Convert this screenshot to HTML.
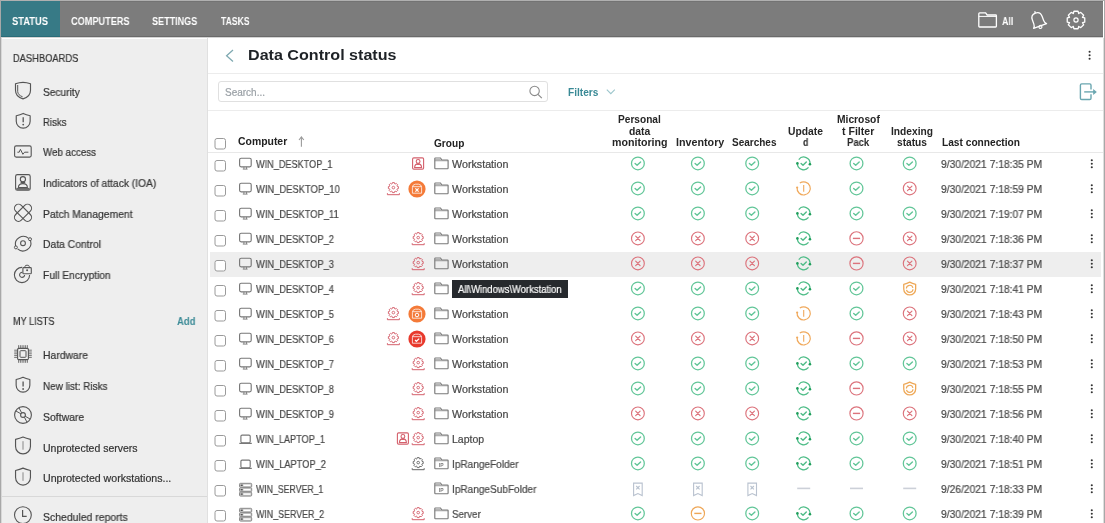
<!DOCTYPE html><html><head><meta charset="utf-8"><style>
*{margin:0;padding:0;box-sizing:border-box}
html,body{width:1105px;height:523px;overflow:hidden;background:#fff}
body{position:relative;font-family:"Liberation Sans",sans-serif}
.t{position:absolute;white-space:nowrap;transform-origin:0 50%;-webkit-font-smoothing:antialiased;will-change:transform;-webkit-text-stroke:0.2px currentColor}
.t.b{-webkit-text-stroke:0}
.a{position:absolute}
svg{position:absolute;overflow:visible}
</style></head><body>
<div class="a" style="left:1px;top:1px;width:1102px;height:36px;background:#7c7c7c"></div>
<div class="a" style="left:1px;top:1px;width:1102px;height:1px;background:#737373"></div>
<div class="a" style="left:1px;top:1px;width:59px;height:36px;background:#377a86"></div>
<div class="a" style="left:1px;top:36px;width:1102px;height:1px;background:#6a6a6a"></div>
<div class="a" style="left:1px;top:36px;width:59px;height:1px;background:#2a6c78"></div>
<div class="a" style="left:1px;top:37px;width:1102px;height:1px;background:#d4d4d4"></div>
<div class="t b" style="left:11.80px;top:14.19px;font-size:11px;line-height:14px;font-weight:bold;color:#fff;transform:scaleX(0.8497);">STATUS</div>
<div class="t b" style="left:70.70px;top:14.19px;font-size:11px;line-height:14px;font-weight:bold;color:#fff;transform:scaleX(0.8323);">COMPUTERS</div>
<div class="t b" style="left:151.80px;top:14.19px;font-size:11px;line-height:14px;font-weight:bold;color:#fff;transform:scaleX(0.8217);">SETTINGS</div>
<div class="t b" style="left:220.50px;top:14.19px;font-size:11px;line-height:14px;font-weight:bold;color:#fff;transform:scaleX(0.7816);">TASKS</div>
<div class="t b" style="left:1002.00px;top:13.76px;font-size:10.5px;line-height:14px;font-weight:bold;color:#fff;transform:scaleX(0.8422);">All</div>
<div class="a" style="left:1px;top:39px;width:206px;height:484px;background:#eeeeee"></div>
<div class="a" style="left:207px;top:38px;width:1px;height:485px;background:#e0e0e0"></div>
<div class="a" style="left:0;top:0;width:1105px;height:1px;background:#b0b0b0"></div>
<div class="a" style="left:0;top:0;width:1px;height:523px;background:#a8a8a8"></div>
<div class="a" style="left:1px;top:38px;width:1px;height:485px;background:#d8d8d8"></div>
<div class="a" style="left:1103px;top:38px;width:1px;height:485px;background:#dedede"></div>
<div class="a" style="left:1104px;top:0;width:1px;height:523px;background:#a8a8a8"></div>
<div class="t" style="left:12.70px;top:50.86px;font-size:10.5px;line-height:14px;color:#333;transform:scaleX(0.8882);">DASHBOARDS</div>
<div class="t" style="left:43.10px;top:84.66px;font-size:10.5px;line-height:14px;color:#333;transform:scaleX(0.9676);">Security</div>
<div class="t" style="left:43.10px;top:114.96px;font-size:10.5px;line-height:14px;color:#333;transform:scaleX(0.9117);">Risks</div>
<div class="t" style="left:43.10px;top:145.46px;font-size:10.5px;line-height:14px;color:#333;transform:scaleX(0.9299);">Web access</div>
<div class="t" style="left:43.10px;top:176.16px;font-size:10.5px;line-height:14px;color:#333;transform:scaleX(0.9748);">Indicators of attack (IOA)</div>
<div class="t" style="left:43.10px;top:206.66px;font-size:10.5px;line-height:14px;color:#333;transform:scaleX(0.9829);">Patch Management</div>
<div class="t" style="left:43.10px;top:237.46px;font-size:10.5px;line-height:14px;color:#333;transform:scaleX(0.9856);">Data Control</div>
<div class="t" style="left:43.10px;top:267.96px;font-size:10.5px;line-height:14px;color:#333;transform:scaleX(0.9748);">Full Encryption</div>
<div class="t" style="left:12.70px;top:313.96px;font-size:10.5px;line-height:14px;color:#333;transform:scaleX(0.8666);">MY LISTS</div>
<div class="t b" style="left:176.80px;top:313.96px;font-size:10.5px;line-height:14px;font-weight:bold;color:#3a8a96;transform:scaleX(0.9064);">Add</div>
<div class="t" style="left:43.10px;top:348.46px;font-size:10.5px;line-height:14px;color:#333;transform:scaleX(0.9864);">Hardware</div>
<div class="t" style="left:43.10px;top:378.86px;font-size:10.5px;line-height:14px;color:#333;transform:scaleX(0.9450);">New list: Risks</div>
<div class="t" style="left:43.10px;top:410.06px;font-size:10.5px;line-height:14px;color:#333;transform:scaleX(0.9943);">Software</div>
<div class="t" style="left:43.10px;top:440.66px;font-size:10.5px;line-height:14px;color:#333;transform:scaleX(1.0006);">Unprotected servers</div>
<div class="t" style="left:43.10px;top:471.26px;font-size:10.5px;line-height:14px;color:#333;transform:scaleX(1.0084);">Unprotected workstations...</div>
<div class="t" style="left:43.10px;top:509.86px;font-size:10.5px;line-height:14px;color:#333;transform:scaleX(0.9939);">Scheduled reports</div>
<div class="a" style="left:1px;top:496px;width:206px;height:1px;background:#d8d8d8"></div>
<div class="t b" style="left:247.50px;top:45.20px;font-size:15px;line-height:20px;font-weight:bold;color:#1e2226;transform:scaleX(1.0734);">Data Control status</div>
<div class="a" style="left:208px;top:73px;width:895px;height:1px;background:#ececec"></div>
<div class="a" style="left:218px;top:81px;width:330px;height:21px;border:1px solid #e0e0e0;border-radius:3px"></div>
<div class="t" style="left:225.00px;top:86.03px;font-size:10px;line-height:13px;color:#9aa0a6;transform:scaleX(0.9995);">Search...</div>
<div class="t b" style="left:568.40px;top:85.53px;font-size:10px;line-height:13px;font-weight:bold;color:#3a8a96;transform:scaleX(1.0130);">Filters</div>
<div class="a" style="left:208px;top:110px;width:895px;height:1px;background:#ececec"></div>
<div class="a" style="left:208px;top:152px;width:895px;height:1px;background:#e8e8e8"></div>
<div class="t b" style="left:238.10px;top:135.34px;font-size:10px;line-height:13px;font-weight:bold;color:#222;transform:scaleX(1.0419);">Computer</div>
<div class="t b" style="left:433.60px;top:136.63px;font-size:10px;line-height:13px;font-weight:bold;color:#222;transform:scaleX(1.0102);">Group</div>
<div class="t b" style="left:618.40px;top:113.13px;font-size:10px;line-height:13px;font-weight:bold;color:#262626;transform:scaleX(1.0132);">Personal</div>
<div class="t b" style="left:629.00px;top:124.63px;font-size:10px;line-height:13px;font-weight:bold;color:#262626;transform:scaleX(1.0359);">data</div>
<div class="t b" style="left:611.80px;top:135.94px;font-size:10px;line-height:13px;font-weight:bold;color:#262626;transform:scaleX(1.0630);">monitoring</div>
<div class="t b" style="left:675.70px;top:135.94px;font-size:10px;line-height:13px;font-weight:bold;color:#262626;transform:scaleX(1.0731);">Inventory</div>
<div class="t b" style="left:732.10px;top:135.94px;font-size:10px;line-height:13px;font-weight:bold;color:#262626;transform:scaleX(0.9982);">Searches</div>
<div class="t b" style="left:788.10px;top:124.63px;font-size:10px;line-height:13px;font-weight:bold;color:#262626;transform:scaleX(1.0297);">Update</div>
<div class="t b" style="left:802.70px;top:135.94px;font-size:10px;line-height:13px;font-weight:bold;color:#262626;transform:scaleX(0.8676);">d</div>
<div class="t b" style="left:837.30px;top:113.13px;font-size:10px;line-height:13px;font-weight:bold;color:#262626;transform:scaleX(1.0271);">Microsof</div>
<div class="t b" style="left:841.90px;top:124.63px;font-size:10px;line-height:13px;font-weight:bold;color:#262626;transform:scaleX(1.0570);">t Filter</div>
<div class="t b" style="left:847.00px;top:135.94px;font-size:10px;line-height:13px;font-weight:bold;color:#262626;transform:scaleX(0.9505);">Pack</div>
<div class="t b" style="left:890.70px;top:124.63px;font-size:10px;line-height:13px;font-weight:bold;color:#262626;transform:scaleX(1.0215);">Indexing</div>
<div class="t b" style="left:896.50px;top:135.94px;font-size:10px;line-height:13px;font-weight:bold;color:#262626;transform:scaleX(1.0185);">status</div>
<div class="t b" style="left:941.90px;top:136.13px;font-size:10px;line-height:13px;font-weight:bold;color:#222;transform:scaleX(1.0172);">Last connection</div>
<div class="a" style="left:210px;top:252px;width:891px;height:25px;background:#eeeeee"></div>
<div class="t" style="left:256.20px;top:156.56px;font-size:10.5px;line-height:14px;color:#474747;transform:scaleX(0.8701);">WIN_DESKTOP_1</div>
<div class="t" style="left:451.90px;top:156.56px;font-size:10.5px;line-height:14px;color:#474747;transform:scaleX(1.0209);">Workstation</div>
<div class="t" style="left:940.80px;top:156.56px;font-size:10.5px;line-height:14px;color:#474747;transform:scaleX(0.9794);">9/30/2021 7:18:35 PM</div>
<div class="t" style="left:256.20px;top:181.56px;font-size:10.5px;line-height:14px;color:#474747;transform:scaleX(0.8938);">WIN_DESKTOP_10</div>
<div class="t" style="left:451.90px;top:181.56px;font-size:10.5px;line-height:14px;color:#474747;transform:scaleX(1.0209);">Workstation</div>
<div class="t" style="left:940.80px;top:181.56px;font-size:10.5px;line-height:14px;color:#474747;transform:scaleX(0.9794);">9/30/2021 7:18:59 PM</div>
<div class="t" style="left:256.20px;top:206.56px;font-size:10.5px;line-height:14px;color:#474747;transform:scaleX(0.8894);">WIN_DESKTOP_11</div>
<div class="t" style="left:451.90px;top:206.56px;font-size:10.5px;line-height:14px;color:#474747;transform:scaleX(1.0209);">Workstation</div>
<div class="t" style="left:940.80px;top:206.56px;font-size:10.5px;line-height:14px;color:#474747;transform:scaleX(0.9794);">9/30/2021 7:19:07 PM</div>
<div class="t" style="left:256.20px;top:231.56px;font-size:10.5px;line-height:14px;color:#474747;transform:scaleX(0.8872);">WIN_DESKTOP_2</div>
<div class="t" style="left:451.90px;top:231.56px;font-size:10.5px;line-height:14px;color:#474747;transform:scaleX(1.0209);">Workstation</div>
<div class="t" style="left:940.80px;top:231.56px;font-size:10.5px;line-height:14px;color:#474747;transform:scaleX(0.9794);">9/30/2021 7:18:36 PM</div>
<div class="t" style="left:256.20px;top:256.56px;font-size:10.5px;line-height:14px;color:#474747;transform:scaleX(0.8872);">WIN_DESKTOP_3</div>
<div class="t" style="left:451.90px;top:256.56px;font-size:10.5px;line-height:14px;color:#474747;transform:scaleX(1.0209);">Workstation</div>
<div class="t" style="left:940.80px;top:256.56px;font-size:10.5px;line-height:14px;color:#474747;transform:scaleX(0.9794);">9/30/2021 7:18:37 PM</div>
<div class="t" style="left:256.20px;top:281.56px;font-size:10.5px;line-height:14px;color:#474747;transform:scaleX(0.8872);">WIN_DESKTOP_4</div>
<div class="t" style="left:940.80px;top:281.56px;font-size:10.5px;line-height:14px;color:#474747;transform:scaleX(0.9794);">9/30/2021 7:18:41 PM</div>
<div class="t" style="left:256.20px;top:306.56px;font-size:10.5px;line-height:14px;color:#474747;transform:scaleX(0.8872);">WIN_DESKTOP_5</div>
<div class="t" style="left:451.90px;top:306.56px;font-size:10.5px;line-height:14px;color:#474747;transform:scaleX(1.0209);">Workstation</div>
<div class="t" style="left:940.80px;top:306.56px;font-size:10.5px;line-height:14px;color:#474747;transform:scaleX(0.9794);">9/30/2021 7:18:43 PM</div>
<div class="t" style="left:256.20px;top:331.56px;font-size:10.5px;line-height:14px;color:#474747;transform:scaleX(0.8872);">WIN_DESKTOP_6</div>
<div class="t" style="left:451.90px;top:331.56px;font-size:10.5px;line-height:14px;color:#474747;transform:scaleX(1.0209);">Workstation</div>
<div class="t" style="left:940.80px;top:331.56px;font-size:10.5px;line-height:14px;color:#474747;transform:scaleX(0.9794);">9/30/2021 7:18:50 PM</div>
<div class="t" style="left:256.20px;top:356.56px;font-size:10.5px;line-height:14px;color:#474747;transform:scaleX(0.8872);">WIN_DESKTOP_7</div>
<div class="t" style="left:451.90px;top:356.56px;font-size:10.5px;line-height:14px;color:#474747;transform:scaleX(1.0209);">Workstation</div>
<div class="t" style="left:940.80px;top:356.56px;font-size:10.5px;line-height:14px;color:#474747;transform:scaleX(0.9794);">9/30/2021 7:18:53 PM</div>
<div class="t" style="left:256.20px;top:381.56px;font-size:10.5px;line-height:14px;color:#474747;transform:scaleX(0.8872);">WIN_DESKTOP_8</div>
<div class="t" style="left:451.90px;top:381.56px;font-size:10.5px;line-height:14px;color:#474747;transform:scaleX(1.0209);">Workstation</div>
<div class="t" style="left:940.80px;top:381.56px;font-size:10.5px;line-height:14px;color:#474747;transform:scaleX(0.9794);">9/30/2021 7:18:55 PM</div>
<div class="t" style="left:256.20px;top:406.56px;font-size:10.5px;line-height:14px;color:#474747;transform:scaleX(0.8872);">WIN_DESKTOP_9</div>
<div class="t" style="left:451.90px;top:406.56px;font-size:10.5px;line-height:14px;color:#474747;transform:scaleX(1.0209);">Workstation</div>
<div class="t" style="left:940.80px;top:406.56px;font-size:10.5px;line-height:14px;color:#474747;transform:scaleX(0.9794);">9/30/2021 7:18:56 PM</div>
<div class="t" style="left:256.20px;top:431.56px;font-size:10.5px;line-height:14px;color:#474747;transform:scaleX(0.8728);">WIN_LAPTOP_1</div>
<div class="t" style="left:451.90px;top:431.56px;font-size:10.5px;line-height:14px;color:#474747;transform:scaleX(0.9995);">Laptop</div>
<div class="t" style="left:940.80px;top:431.56px;font-size:10.5px;line-height:14px;color:#474747;transform:scaleX(0.9794);">9/30/2021 7:18:40 PM</div>
<div class="t" style="left:256.20px;top:456.56px;font-size:10.5px;line-height:14px;color:#474747;transform:scaleX(0.8841);">WIN_LAPTOP_2</div>
<div class="t" style="left:451.90px;top:456.56px;font-size:10.5px;line-height:14px;color:#474747;transform:scaleX(0.9588);">IpRangeFolder</div>
<div class="t" style="left:940.80px;top:456.56px;font-size:10.5px;line-height:14px;color:#474747;transform:scaleX(0.9794);">9/30/2021 7:18:51 PM</div>
<div class="t" style="left:256.20px;top:481.56px;font-size:10.5px;line-height:14px;color:#474747;transform:scaleX(0.8317);">WIN_SERVER_1</div>
<div class="t" style="left:451.90px;top:481.56px;font-size:10.5px;line-height:14px;color:#474747;transform:scaleX(0.9575);">IpRangeSubFolder</div>
<div class="t" style="left:940.80px;top:481.56px;font-size:10.5px;line-height:14px;color:#474747;transform:scaleX(0.9794);">9/26/2021 7:18:33 PM</div>
<div class="t" style="left:256.20px;top:506.56px;font-size:10.5px;line-height:14px;color:#474747;transform:scaleX(0.8428);">WIN_SERVER_2</div>
<div class="t" style="left:451.90px;top:506.56px;font-size:10.5px;line-height:14px;color:#474747;transform:scaleX(0.9312);">Server</div>
<div class="t" style="left:940.80px;top:506.56px;font-size:10.5px;line-height:14px;color:#474747;transform:scaleX(0.9794);">9/30/2021 7:18:39 PM</div>
<svg class="a" style="left:0;top:0" width="1105" height="523" viewBox="0 0 1105 523"><rect x="215.0" y="138.5" width="10.5" height="10.5" rx="2" fill="#fff" stroke="#9a9a9a" stroke-width="1"/><path d="M301.4,137.5 L301.4,146.8" stroke="#9a9a9a" stroke-width="1.1"/><path d="M299,140 L301.4,137 L303.8,140" fill="none" stroke="#9a9a9a" stroke-width="1.1"/><rect x="215.0" y="160.5" width="10.5" height="10.5" rx="2" fill="#fff" stroke="#9a9a9a" stroke-width="1"/><rect x="239.6" y="158.2" width="11.6" height="8.6" rx="1.5" fill="none" stroke="#777" stroke-width="1.15"/><path d="M243.9,166.9 L243.9,169.0 M246.5,166.9 L246.5,169.0" stroke="#777" stroke-width="0.8"/><path d="M242.8,169.1 L247.6,169.1" stroke="#777" stroke-width="0.9"/><path d="M434.8,168.1 L434.8,158.6 Q434.8,158.0 435.4,158.0 L440.5,158.0 L441.9,160.0 L447.5,160.0 Q448.09999999999997,160.0 448.09999999999997,160.6 L448.09999999999997,168.1 Q448.09999999999997,168.70000000000002 447.5,168.70000000000002 L435.4,168.70000000000002 Q434.8,168.70000000000002 434.8,168.1 Z" fill="none" stroke="#7a7a7a" stroke-width="1.15"/><path d="M435.2,158.9 L440.4,158.9 L441.4,160.4 L435.2,160.4 Z" fill="#7a7a7a" opacity=".55"/><path d="M434.8,160.8 L448.09999999999997,160.8" stroke="#7a7a7a" stroke-width=".9" opacity=".7"/><circle cx="637.9" cy="163.4" r="6.4" fill="none" stroke="#62c698" stroke-width="1.25"/><path d="M635.1,163.5 L637.1,165.3 L640.6,161.9" fill="none" stroke="#62c698" stroke-width="1.4" stroke-linecap="round" stroke-linejoin="round"/><circle cx="697.9" cy="163.4" r="6.4" fill="none" stroke="#62c698" stroke-width="1.25"/><path d="M695.1,163.5 L697.1,165.3 L700.6,161.9" fill="none" stroke="#62c698" stroke-width="1.4" stroke-linecap="round" stroke-linejoin="round"/><circle cx="752.2" cy="163.4" r="6.4" fill="none" stroke="#62c698" stroke-width="1.25"/><path d="M749.4000000000001,163.5 L751.4000000000001,165.3 L754.9000000000001,161.9" fill="none" stroke="#62c698" stroke-width="1.4" stroke-linecap="round" stroke-linejoin="round"/><path d="M798.74,159.52 A6.3,6.3 0 0 1 809.94,164.28" fill="none" stroke="#4fbd88" stroke-width="1.25"/><path d="M797.40,163.40 A6.3,6.3 0 0 0 808.53,167.45" fill="none" stroke="#4fbd88" stroke-width="1.25"/><circle cx="809.94" cy="164.28" r="1.3" fill="#1f9e5c"/><circle cx="797.40" cy="163.40" r="1.3" fill="#1f9e5c"/><path d="M801.1,163.5 L803.0,165.20000000000002 L806.3000000000001,161.9" fill="none" stroke="#4fbd88" stroke-width="1.4" stroke-linecap="round" stroke-linejoin="round"/><circle cx="856.5" cy="163.4" r="6.4" fill="none" stroke="#62c698" stroke-width="1.25"/><path d="M853.7,163.5 L855.7,165.3 L859.2,161.9" fill="none" stroke="#62c698" stroke-width="1.4" stroke-linecap="round" stroke-linejoin="round"/><circle cx="909.7" cy="163.4" r="6.4" fill="none" stroke="#62c698" stroke-width="1.25"/><path d="M906.9000000000001,163.5 L908.9000000000001,165.3 L912.4000000000001,161.9" fill="none" stroke="#62c698" stroke-width="1.4" stroke-linecap="round" stroke-linejoin="round"/><circle cx="1091.8" cy="160.2" r="1.05" fill="#333"/><circle cx="1091.8" cy="163.7" r="1.05" fill="#333"/><circle cx="1091.8" cy="167.2" r="1.05" fill="#333"/><rect x="215.0" y="185.5" width="10.5" height="10.5" rx="2" fill="#fff" stroke="#9a9a9a" stroke-width="1"/><rect x="239.6" y="183.2" width="11.6" height="8.6" rx="1.5" fill="none" stroke="#777" stroke-width="1.15"/><path d="M243.9,191.9 L243.9,194.0 M246.5,191.9 L246.5,194.0" stroke="#777" stroke-width="0.8"/><path d="M242.8,194.1 L247.6,194.1" stroke="#777" stroke-width="0.9"/><path d="M434.8,193.1 L434.8,183.6 Q434.8,183.0 435.4,183.0 L440.5,183.0 L441.9,185.0 L447.5,185.0 Q448.09999999999997,185.0 448.09999999999997,185.6 L448.09999999999997,193.1 Q448.09999999999997,193.70000000000002 447.5,193.70000000000002 L435.4,193.70000000000002 Q434.8,193.70000000000002 434.8,193.1 Z" fill="none" stroke="#7a7a7a" stroke-width="1.15"/><path d="M435.2,183.9 L440.4,183.9 L441.4,185.4 L435.2,185.4 Z" fill="#7a7a7a" opacity=".55"/><path d="M434.8,185.8 L448.09999999999997,185.8" stroke="#7a7a7a" stroke-width=".9" opacity=".7"/><circle cx="637.9" cy="188.4" r="6.4" fill="none" stroke="#62c698" stroke-width="1.25"/><path d="M635.1,188.5 L637.1,190.3 L640.6,186.9" fill="none" stroke="#62c698" stroke-width="1.4" stroke-linecap="round" stroke-linejoin="round"/><circle cx="697.9" cy="188.4" r="6.4" fill="none" stroke="#62c698" stroke-width="1.25"/><path d="M695.1,188.5 L697.1,190.3 L700.6,186.9" fill="none" stroke="#62c698" stroke-width="1.4" stroke-linecap="round" stroke-linejoin="round"/><circle cx="752.2" cy="188.4" r="6.4" fill="none" stroke="#62c698" stroke-width="1.25"/><path d="M749.4000000000001,188.5 L751.4000000000001,190.3 L754.9000000000001,186.9" fill="none" stroke="#62c698" stroke-width="1.4" stroke-linecap="round" stroke-linejoin="round"/><path d="M799.82,183.06 A6.6,6.6 0 1 1 797.16,187.48" fill="none" stroke="#f0a95c" stroke-width="1.2"/><circle cx="797.16" cy="187.48" r="1.1" fill="#f0a95c"/><path d="M803.7,185.1 L803.7,191.70000000000002" stroke="#f0a95c" stroke-width="1.1"/><circle cx="856.5" cy="188.4" r="6.4" fill="none" stroke="#62c698" stroke-width="1.25"/><path d="M853.7,188.5 L855.7,190.3 L859.2,186.9" fill="none" stroke="#62c698" stroke-width="1.4" stroke-linecap="round" stroke-linejoin="round"/><circle cx="909.7" cy="188.4" r="6.4" fill="none" stroke="#dc737c" stroke-width="1.15"/><path d="M907.5,186.20000000000002 L911.9000000000001,190.6 M911.9000000000001,186.20000000000002 L907.5,190.6" fill="none" stroke="#dc737c" stroke-width="1.2" stroke-linecap="round"/><circle cx="1091.8" cy="185.2" r="1.05" fill="#333"/><circle cx="1091.8" cy="188.7" r="1.05" fill="#333"/><circle cx="1091.8" cy="192.2" r="1.05" fill="#333"/><rect x="215.0" y="210.5" width="10.5" height="10.5" rx="2" fill="#fff" stroke="#9a9a9a" stroke-width="1"/><rect x="239.6" y="208.2" width="11.6" height="8.6" rx="1.5" fill="none" stroke="#777" stroke-width="1.15"/><path d="M243.9,216.9 L243.9,219.0 M246.5,216.9 L246.5,219.0" stroke="#777" stroke-width="0.8"/><path d="M242.8,219.1 L247.6,219.1" stroke="#777" stroke-width="0.9"/><path d="M434.8,218.1 L434.8,208.6 Q434.8,208.0 435.4,208.0 L440.5,208.0 L441.9,210.0 L447.5,210.0 Q448.09999999999997,210.0 448.09999999999997,210.6 L448.09999999999997,218.1 Q448.09999999999997,218.70000000000002 447.5,218.70000000000002 L435.4,218.70000000000002 Q434.8,218.70000000000002 434.8,218.1 Z" fill="none" stroke="#7a7a7a" stroke-width="1.15"/><path d="M435.2,208.9 L440.4,208.9 L441.4,210.4 L435.2,210.4 Z" fill="#7a7a7a" opacity=".55"/><path d="M434.8,210.8 L448.09999999999997,210.8" stroke="#7a7a7a" stroke-width=".9" opacity=".7"/><circle cx="637.9" cy="213.4" r="6.4" fill="none" stroke="#62c698" stroke-width="1.25"/><path d="M635.1,213.5 L637.1,215.3 L640.6,211.9" fill="none" stroke="#62c698" stroke-width="1.4" stroke-linecap="round" stroke-linejoin="round"/><circle cx="697.9" cy="213.4" r="6.4" fill="none" stroke="#62c698" stroke-width="1.25"/><path d="M695.1,213.5 L697.1,215.3 L700.6,211.9" fill="none" stroke="#62c698" stroke-width="1.4" stroke-linecap="round" stroke-linejoin="round"/><circle cx="752.2" cy="213.4" r="6.4" fill="none" stroke="#62c698" stroke-width="1.25"/><path d="M749.4000000000001,213.5 L751.4000000000001,215.3 L754.9000000000001,211.9" fill="none" stroke="#62c698" stroke-width="1.4" stroke-linecap="round" stroke-linejoin="round"/><path d="M798.74,209.52 A6.3,6.3 0 0 1 809.94,214.28" fill="none" stroke="#4fbd88" stroke-width="1.25"/><path d="M797.40,213.40 A6.3,6.3 0 0 0 808.53,217.45" fill="none" stroke="#4fbd88" stroke-width="1.25"/><circle cx="809.94" cy="214.28" r="1.3" fill="#1f9e5c"/><circle cx="797.40" cy="213.40" r="1.3" fill="#1f9e5c"/><path d="M801.1,213.5 L803.0,215.20000000000002 L806.3000000000001,211.9" fill="none" stroke="#4fbd88" stroke-width="1.4" stroke-linecap="round" stroke-linejoin="round"/><circle cx="856.5" cy="213.4" r="6.4" fill="none" stroke="#62c698" stroke-width="1.25"/><path d="M853.7,213.5 L855.7,215.3 L859.2,211.9" fill="none" stroke="#62c698" stroke-width="1.4" stroke-linecap="round" stroke-linejoin="round"/><circle cx="909.7" cy="213.4" r="6.4" fill="none" stroke="#62c698" stroke-width="1.25"/><path d="M906.9000000000001,213.5 L908.9000000000001,215.3 L912.4000000000001,211.9" fill="none" stroke="#62c698" stroke-width="1.4" stroke-linecap="round" stroke-linejoin="round"/><circle cx="1091.8" cy="210.2" r="1.05" fill="#333"/><circle cx="1091.8" cy="213.7" r="1.05" fill="#333"/><circle cx="1091.8" cy="217.2" r="1.05" fill="#333"/><rect x="215.0" y="235.5" width="10.5" height="10.5" rx="2" fill="#fff" stroke="#9a9a9a" stroke-width="1"/><rect x="239.6" y="233.2" width="11.6" height="8.6" rx="1.5" fill="none" stroke="#777" stroke-width="1.15"/><path d="M243.9,241.9 L243.9,244.0 M246.5,241.9 L246.5,244.0" stroke="#777" stroke-width="0.8"/><path d="M242.8,244.1 L247.6,244.1" stroke="#777" stroke-width="0.9"/><path d="M434.8,243.1 L434.8,233.6 Q434.8,233.0 435.4,233.0 L440.5,233.0 L441.9,235.0 L447.5,235.0 Q448.09999999999997,235.0 448.09999999999997,235.6 L448.09999999999997,243.1 Q448.09999999999997,243.70000000000002 447.5,243.70000000000002 L435.4,243.70000000000002 Q434.8,243.70000000000002 434.8,243.1 Z" fill="none" stroke="#7a7a7a" stroke-width="1.15"/><path d="M435.2,233.9 L440.4,233.9 L441.4,235.4 L435.2,235.4 Z" fill="#7a7a7a" opacity=".55"/><path d="M434.8,235.8 L448.09999999999997,235.8" stroke="#7a7a7a" stroke-width=".9" opacity=".7"/><circle cx="637.9" cy="238.4" r="6.4" fill="none" stroke="#dc737c" stroke-width="1.15"/><path d="M635.6999999999999,236.20000000000002 L640.1,240.6 M640.1,236.20000000000002 L635.6999999999999,240.6" fill="none" stroke="#dc737c" stroke-width="1.2" stroke-linecap="round"/><circle cx="697.9" cy="238.4" r="6.4" fill="none" stroke="#dc737c" stroke-width="1.15"/><path d="M695.6999999999999,236.20000000000002 L700.1,240.6 M700.1,236.20000000000002 L695.6999999999999,240.6" fill="none" stroke="#dc737c" stroke-width="1.2" stroke-linecap="round"/><circle cx="752.2" cy="238.4" r="6.4" fill="none" stroke="#dc737c" stroke-width="1.15"/><path d="M750.0,236.20000000000002 L754.4000000000001,240.6 M754.4000000000001,236.20000000000002 L750.0,240.6" fill="none" stroke="#dc737c" stroke-width="1.2" stroke-linecap="round"/><path d="M798.74,234.52 A6.3,6.3 0 0 1 809.94,239.28" fill="none" stroke="#4fbd88" stroke-width="1.25"/><path d="M797.40,238.40 A6.3,6.3 0 0 0 808.53,242.45" fill="none" stroke="#4fbd88" stroke-width="1.25"/><circle cx="809.94" cy="239.28" r="1.3" fill="#1f9e5c"/><circle cx="797.40" cy="238.40" r="1.3" fill="#1f9e5c"/><path d="M801.1,238.5 L803.0,240.20000000000002 L806.3000000000001,236.9" fill="none" stroke="#4fbd88" stroke-width="1.4" stroke-linecap="round" stroke-linejoin="round"/><circle cx="856.5" cy="238.4" r="6.6" fill="none" stroke="#dc737c" stroke-width="1.15"/><path d="M852.9,238.4 L860.1,238.4" stroke="#dc737c" stroke-width="1.4"/><circle cx="909.7" cy="238.4" r="6.4" fill="none" stroke="#dc737c" stroke-width="1.15"/><path d="M907.5,236.20000000000002 L911.9000000000001,240.6 M911.9000000000001,236.20000000000002 L907.5,240.6" fill="none" stroke="#dc737c" stroke-width="1.2" stroke-linecap="round"/><circle cx="1091.8" cy="235.2" r="1.05" fill="#333"/><circle cx="1091.8" cy="238.7" r="1.05" fill="#333"/><circle cx="1091.8" cy="242.2" r="1.05" fill="#333"/><rect x="215.0" y="260.5" width="10.5" height="10.5" rx="2" fill="#fff" stroke="#9a9a9a" stroke-width="1"/><rect x="239.6" y="258.20000000000005" width="11.6" height="8.6" rx="1.5" fill="none" stroke="#777" stroke-width="1.15"/><path d="M243.9,266.90000000000003 L243.9,269.0 M246.5,266.90000000000003 L246.5,269.0" stroke="#777" stroke-width="0.8"/><path d="M242.8,269.1 L247.6,269.1" stroke="#777" stroke-width="0.9"/><path d="M434.8,268.09999999999997 L434.8,258.59999999999997 Q434.8,258.0 435.4,258.0 L440.5,258.0 L441.9,260.0 L447.5,260.0 Q448.09999999999997,260.0 448.09999999999997,260.59999999999997 L448.09999999999997,268.09999999999997 Q448.09999999999997,268.7 447.5,268.7 L435.4,268.7 Q434.8,268.7 434.8,268.09999999999997 Z" fill="none" stroke="#7a7a7a" stroke-width="1.15"/><path d="M435.2,258.9 L440.4,258.9 L441.4,260.4 L435.2,260.4 Z" fill="#7a7a7a" opacity=".55"/><path d="M434.8,260.79999999999995 L448.09999999999997,260.79999999999995" stroke="#7a7a7a" stroke-width=".9" opacity=".7"/><circle cx="637.9" cy="263.4" r="6.4" fill="none" stroke="#dc737c" stroke-width="1.15"/><path d="M635.6999999999999,261.2 L640.1,265.59999999999997 M640.1,261.2 L635.6999999999999,265.59999999999997" fill="none" stroke="#dc737c" stroke-width="1.2" stroke-linecap="round"/><circle cx="697.9" cy="263.4" r="6.4" fill="none" stroke="#dc737c" stroke-width="1.15"/><path d="M695.6999999999999,261.2 L700.1,265.59999999999997 M700.1,261.2 L695.6999999999999,265.59999999999997" fill="none" stroke="#dc737c" stroke-width="1.2" stroke-linecap="round"/><circle cx="752.2" cy="263.4" r="6.4" fill="none" stroke="#dc737c" stroke-width="1.15"/><path d="M750.0,261.2 L754.4000000000001,265.59999999999997 M754.4000000000001,261.2 L750.0,265.59999999999997" fill="none" stroke="#dc737c" stroke-width="1.2" stroke-linecap="round"/><path d="M798.74,259.52 A6.3,6.3 0 0 1 809.94,264.28" fill="none" stroke="#4fbd88" stroke-width="1.25"/><path d="M797.40,263.40 A6.3,6.3 0 0 0 808.53,267.45" fill="none" stroke="#4fbd88" stroke-width="1.25"/><circle cx="809.94" cy="264.28" r="1.3" fill="#1f9e5c"/><circle cx="797.40" cy="263.40" r="1.3" fill="#1f9e5c"/><path d="M801.1,263.5 L803.0,265.2 L806.3000000000001,261.9" fill="none" stroke="#4fbd88" stroke-width="1.4" stroke-linecap="round" stroke-linejoin="round"/><circle cx="856.5" cy="263.4" r="6.6" fill="none" stroke="#dc737c" stroke-width="1.15"/><path d="M852.9,263.4 L860.1,263.4" stroke="#dc737c" stroke-width="1.4"/><circle cx="909.7" cy="263.4" r="6.4" fill="none" stroke="#dc737c" stroke-width="1.15"/><path d="M907.5,261.2 L911.9000000000001,265.59999999999997 M911.9000000000001,261.2 L907.5,265.59999999999997" fill="none" stroke="#dc737c" stroke-width="1.2" stroke-linecap="round"/><circle cx="1091.8" cy="260.2" r="1.05" fill="#333"/><circle cx="1091.8" cy="263.7" r="1.05" fill="#333"/><circle cx="1091.8" cy="267.2" r="1.05" fill="#333"/><rect x="215.0" y="285.5" width="10.5" height="10.5" rx="2" fill="#fff" stroke="#9a9a9a" stroke-width="1"/><rect x="239.6" y="283.20000000000005" width="11.6" height="8.6" rx="1.5" fill="none" stroke="#777" stroke-width="1.15"/><path d="M243.9,291.90000000000003 L243.9,294.0 M246.5,291.90000000000003 L246.5,294.0" stroke="#777" stroke-width="0.8"/><path d="M242.8,294.1 L247.6,294.1" stroke="#777" stroke-width="0.9"/><path d="M434.8,293.09999999999997 L434.8,283.59999999999997 Q434.8,283.0 435.4,283.0 L440.5,283.0 L441.9,285.0 L447.5,285.0 Q448.09999999999997,285.0 448.09999999999997,285.59999999999997 L448.09999999999997,293.09999999999997 Q448.09999999999997,293.7 447.5,293.7 L435.4,293.7 Q434.8,293.7 434.8,293.09999999999997 Z" fill="none" stroke="#7a7a7a" stroke-width="1.15"/><path d="M435.2,283.9 L440.4,283.9 L441.4,285.4 L435.2,285.4 Z" fill="#7a7a7a" opacity=".55"/><path d="M434.8,285.79999999999995 L448.09999999999997,285.79999999999995" stroke="#7a7a7a" stroke-width=".9" opacity=".7"/><circle cx="637.9" cy="288.4" r="6.4" fill="none" stroke="#62c698" stroke-width="1.25"/><path d="M635.1,288.5 L637.1,290.29999999999995 L640.6,286.9" fill="none" stroke="#62c698" stroke-width="1.4" stroke-linecap="round" stroke-linejoin="round"/><circle cx="697.9" cy="288.4" r="6.4" fill="none" stroke="#62c698" stroke-width="1.25"/><path d="M695.1,288.5 L697.1,290.29999999999995 L700.6,286.9" fill="none" stroke="#62c698" stroke-width="1.4" stroke-linecap="round" stroke-linejoin="round"/><circle cx="752.2" cy="288.4" r="6.4" fill="none" stroke="#62c698" stroke-width="1.25"/><path d="M749.4000000000001,288.5 L751.4000000000001,290.29999999999995 L754.9000000000001,286.9" fill="none" stroke="#62c698" stroke-width="1.4" stroke-linecap="round" stroke-linejoin="round"/><path d="M798.74,284.52 A6.3,6.3 0 0 1 809.94,289.28" fill="none" stroke="#4fbd88" stroke-width="1.25"/><path d="M797.40,288.40 A6.3,6.3 0 0 0 808.53,292.45" fill="none" stroke="#4fbd88" stroke-width="1.25"/><circle cx="809.94" cy="289.28" r="1.3" fill="#1f9e5c"/><circle cx="797.40" cy="288.40" r="1.3" fill="#1f9e5c"/><path d="M801.1,288.5 L803.0,290.2 L806.3000000000001,286.9" fill="none" stroke="#4fbd88" stroke-width="1.4" stroke-linecap="round" stroke-linejoin="round"/><circle cx="856.5" cy="288.4" r="6.4" fill="none" stroke="#62c698" stroke-width="1.25"/><path d="M853.7,288.5 L855.7,290.29999999999995 L859.2,286.9" fill="none" stroke="#62c698" stroke-width="1.4" stroke-linecap="round" stroke-linejoin="round"/><path d="M903.75,284.4 Q907.1,283.4 909.7,282.05 Q912.3000000000001,283.4 915.6500000000001,284.4 L915.6500000000001,289.0 A5.95,5.95 0 0 1 903.75,289.0 Z" fill="none" stroke="#eea857" stroke-width="1.3" stroke-linejoin="round"/><path d="M906.4000000000001,288.59999999999997 A3.3,3.3 0 0 1 912.9000000000001,287.79999999999995" fill="none" stroke="#eea857" stroke-width="1.15"/><path d="M913.0,289.29999999999995 A3.3,3.3 0 0 1 906.5,289.9" fill="none" stroke="#eea857" stroke-width="1.15"/><circle cx="1091.8" cy="285.2" r="1.05" fill="#333"/><circle cx="1091.8" cy="288.7" r="1.05" fill="#333"/><circle cx="1091.8" cy="292.2" r="1.05" fill="#333"/><rect x="215.0" y="310.5" width="10.5" height="10.5" rx="2" fill="#fff" stroke="#9a9a9a" stroke-width="1"/><rect x="239.6" y="308.20000000000005" width="11.6" height="8.6" rx="1.5" fill="none" stroke="#777" stroke-width="1.15"/><path d="M243.9,316.90000000000003 L243.9,319.0 M246.5,316.90000000000003 L246.5,319.0" stroke="#777" stroke-width="0.8"/><path d="M242.8,319.1 L247.6,319.1" stroke="#777" stroke-width="0.9"/><path d="M434.8,318.09999999999997 L434.8,308.59999999999997 Q434.8,308.0 435.4,308.0 L440.5,308.0 L441.9,310.0 L447.5,310.0 Q448.09999999999997,310.0 448.09999999999997,310.59999999999997 L448.09999999999997,318.09999999999997 Q448.09999999999997,318.7 447.5,318.7 L435.4,318.7 Q434.8,318.7 434.8,318.09999999999997 Z" fill="none" stroke="#7a7a7a" stroke-width="1.15"/><path d="M435.2,308.9 L440.4,308.9 L441.4,310.4 L435.2,310.4 Z" fill="#7a7a7a" opacity=".55"/><path d="M434.8,310.79999999999995 L448.09999999999997,310.79999999999995" stroke="#7a7a7a" stroke-width=".9" opacity=".7"/><circle cx="637.9" cy="313.4" r="6.4" fill="none" stroke="#62c698" stroke-width="1.25"/><path d="M635.1,313.5 L637.1,315.29999999999995 L640.6,311.9" fill="none" stroke="#62c698" stroke-width="1.4" stroke-linecap="round" stroke-linejoin="round"/><circle cx="697.9" cy="313.4" r="6.4" fill="none" stroke="#62c698" stroke-width="1.25"/><path d="M695.1,313.5 L697.1,315.29999999999995 L700.6,311.9" fill="none" stroke="#62c698" stroke-width="1.4" stroke-linecap="round" stroke-linejoin="round"/><circle cx="752.2" cy="313.4" r="6.4" fill="none" stroke="#62c698" stroke-width="1.25"/><path d="M749.4000000000001,313.5 L751.4000000000001,315.29999999999995 L754.9000000000001,311.9" fill="none" stroke="#62c698" stroke-width="1.4" stroke-linecap="round" stroke-linejoin="round"/><path d="M799.82,308.06 A6.6,6.6 0 1 1 797.16,312.48" fill="none" stroke="#f0a95c" stroke-width="1.2"/><circle cx="797.16" cy="312.48" r="1.1" fill="#f0a95c"/><path d="M803.7,310.09999999999997 L803.7,316.7" stroke="#f0a95c" stroke-width="1.1"/><circle cx="856.5" cy="313.4" r="6.4" fill="none" stroke="#62c698" stroke-width="1.25"/><path d="M853.7,313.5 L855.7,315.29999999999995 L859.2,311.9" fill="none" stroke="#62c698" stroke-width="1.4" stroke-linecap="round" stroke-linejoin="round"/><circle cx="909.7" cy="313.4" r="6.4" fill="none" stroke="#dc737c" stroke-width="1.15"/><path d="M907.5,311.2 L911.9000000000001,315.59999999999997 M911.9000000000001,311.2 L907.5,315.59999999999997" fill="none" stroke="#dc737c" stroke-width="1.2" stroke-linecap="round"/><circle cx="1091.8" cy="310.2" r="1.05" fill="#333"/><circle cx="1091.8" cy="313.7" r="1.05" fill="#333"/><circle cx="1091.8" cy="317.2" r="1.05" fill="#333"/><rect x="215.0" y="335.5" width="10.5" height="10.5" rx="2" fill="#fff" stroke="#9a9a9a" stroke-width="1"/><rect x="239.6" y="333.20000000000005" width="11.6" height="8.6" rx="1.5" fill="none" stroke="#777" stroke-width="1.15"/><path d="M243.9,341.90000000000003 L243.9,344.0 M246.5,341.90000000000003 L246.5,344.0" stroke="#777" stroke-width="0.8"/><path d="M242.8,344.1 L247.6,344.1" stroke="#777" stroke-width="0.9"/><path d="M434.8,343.09999999999997 L434.8,333.59999999999997 Q434.8,333.0 435.4,333.0 L440.5,333.0 L441.9,335.0 L447.5,335.0 Q448.09999999999997,335.0 448.09999999999997,335.59999999999997 L448.09999999999997,343.09999999999997 Q448.09999999999997,343.7 447.5,343.7 L435.4,343.7 Q434.8,343.7 434.8,343.09999999999997 Z" fill="none" stroke="#7a7a7a" stroke-width="1.15"/><path d="M435.2,333.9 L440.4,333.9 L441.4,335.4 L435.2,335.4 Z" fill="#7a7a7a" opacity=".55"/><path d="M434.8,335.79999999999995 L448.09999999999997,335.79999999999995" stroke="#7a7a7a" stroke-width=".9" opacity=".7"/><circle cx="637.9" cy="338.4" r="6.4" fill="none" stroke="#dc737c" stroke-width="1.15"/><path d="M635.6999999999999,336.2 L640.1,340.59999999999997 M640.1,336.2 L635.6999999999999,340.59999999999997" fill="none" stroke="#dc737c" stroke-width="1.2" stroke-linecap="round"/><circle cx="697.9" cy="338.4" r="6.4" fill="none" stroke="#dc737c" stroke-width="1.15"/><path d="M695.6999999999999,336.2 L700.1,340.59999999999997 M700.1,336.2 L695.6999999999999,340.59999999999997" fill="none" stroke="#dc737c" stroke-width="1.2" stroke-linecap="round"/><circle cx="752.2" cy="338.4" r="6.4" fill="none" stroke="#dc737c" stroke-width="1.15"/><path d="M750.0,336.2 L754.4000000000001,340.59999999999997 M754.4000000000001,336.2 L750.0,340.59999999999997" fill="none" stroke="#dc737c" stroke-width="1.2" stroke-linecap="round"/><path d="M799.82,333.06 A6.6,6.6 0 1 1 797.16,337.48" fill="none" stroke="#f0a95c" stroke-width="1.2"/><circle cx="797.16" cy="337.48" r="1.1" fill="#f0a95c"/><path d="M803.7,335.09999999999997 L803.7,341.7" stroke="#f0a95c" stroke-width="1.1"/><circle cx="856.5" cy="338.4" r="6.6" fill="none" stroke="#dc737c" stroke-width="1.15"/><path d="M852.9,338.4 L860.1,338.4" stroke="#dc737c" stroke-width="1.4"/><circle cx="909.7" cy="338.4" r="6.4" fill="none" stroke="#dc737c" stroke-width="1.15"/><path d="M907.5,336.2 L911.9000000000001,340.59999999999997 M911.9000000000001,336.2 L907.5,340.59999999999997" fill="none" stroke="#dc737c" stroke-width="1.2" stroke-linecap="round"/><circle cx="1091.8" cy="335.2" r="1.05" fill="#333"/><circle cx="1091.8" cy="338.7" r="1.05" fill="#333"/><circle cx="1091.8" cy="342.2" r="1.05" fill="#333"/><rect x="215.0" y="360.5" width="10.5" height="10.5" rx="2" fill="#fff" stroke="#9a9a9a" stroke-width="1"/><rect x="239.6" y="358.20000000000005" width="11.6" height="8.6" rx="1.5" fill="none" stroke="#777" stroke-width="1.15"/><path d="M243.9,366.90000000000003 L243.9,369.0 M246.5,366.90000000000003 L246.5,369.0" stroke="#777" stroke-width="0.8"/><path d="M242.8,369.1 L247.6,369.1" stroke="#777" stroke-width="0.9"/><path d="M434.8,368.09999999999997 L434.8,358.59999999999997 Q434.8,358.0 435.4,358.0 L440.5,358.0 L441.9,360.0 L447.5,360.0 Q448.09999999999997,360.0 448.09999999999997,360.59999999999997 L448.09999999999997,368.09999999999997 Q448.09999999999997,368.7 447.5,368.7 L435.4,368.7 Q434.8,368.7 434.8,368.09999999999997 Z" fill="none" stroke="#7a7a7a" stroke-width="1.15"/><path d="M435.2,358.9 L440.4,358.9 L441.4,360.4 L435.2,360.4 Z" fill="#7a7a7a" opacity=".55"/><path d="M434.8,360.79999999999995 L448.09999999999997,360.79999999999995" stroke="#7a7a7a" stroke-width=".9" opacity=".7"/><circle cx="637.9" cy="363.4" r="6.4" fill="none" stroke="#62c698" stroke-width="1.25"/><path d="M635.1,363.5 L637.1,365.29999999999995 L640.6,361.9" fill="none" stroke="#62c698" stroke-width="1.4" stroke-linecap="round" stroke-linejoin="round"/><circle cx="697.9" cy="363.4" r="6.4" fill="none" stroke="#62c698" stroke-width="1.25"/><path d="M695.1,363.5 L697.1,365.29999999999995 L700.6,361.9" fill="none" stroke="#62c698" stroke-width="1.4" stroke-linecap="round" stroke-linejoin="round"/><circle cx="752.2" cy="363.4" r="6.4" fill="none" stroke="#62c698" stroke-width="1.25"/><path d="M749.4000000000001,363.5 L751.4000000000001,365.29999999999995 L754.9000000000001,361.9" fill="none" stroke="#62c698" stroke-width="1.4" stroke-linecap="round" stroke-linejoin="round"/><path d="M798.74,359.52 A6.3,6.3 0 0 1 809.94,364.28" fill="none" stroke="#4fbd88" stroke-width="1.25"/><path d="M797.40,363.40 A6.3,6.3 0 0 0 808.53,367.45" fill="none" stroke="#4fbd88" stroke-width="1.25"/><circle cx="809.94" cy="364.28" r="1.3" fill="#1f9e5c"/><circle cx="797.40" cy="363.40" r="1.3" fill="#1f9e5c"/><path d="M801.1,363.5 L803.0,365.2 L806.3000000000001,361.9" fill="none" stroke="#4fbd88" stroke-width="1.4" stroke-linecap="round" stroke-linejoin="round"/><circle cx="856.5" cy="363.4" r="6.4" fill="none" stroke="#62c698" stroke-width="1.25"/><path d="M853.7,363.5 L855.7,365.29999999999995 L859.2,361.9" fill="none" stroke="#62c698" stroke-width="1.4" stroke-linecap="round" stroke-linejoin="round"/><circle cx="909.7" cy="363.4" r="6.4" fill="none" stroke="#62c698" stroke-width="1.25"/><path d="M906.9000000000001,363.5 L908.9000000000001,365.29999999999995 L912.4000000000001,361.9" fill="none" stroke="#62c698" stroke-width="1.4" stroke-linecap="round" stroke-linejoin="round"/><circle cx="1091.8" cy="360.2" r="1.05" fill="#333"/><circle cx="1091.8" cy="363.7" r="1.05" fill="#333"/><circle cx="1091.8" cy="367.2" r="1.05" fill="#333"/><rect x="215.0" y="385.5" width="10.5" height="10.5" rx="2" fill="#fff" stroke="#9a9a9a" stroke-width="1"/><rect x="239.6" y="383.20000000000005" width="11.6" height="8.6" rx="1.5" fill="none" stroke="#777" stroke-width="1.15"/><path d="M243.9,391.90000000000003 L243.9,394.0 M246.5,391.90000000000003 L246.5,394.0" stroke="#777" stroke-width="0.8"/><path d="M242.8,394.1 L247.6,394.1" stroke="#777" stroke-width="0.9"/><path d="M434.8,393.09999999999997 L434.8,383.59999999999997 Q434.8,383.0 435.4,383.0 L440.5,383.0 L441.9,385.0 L447.5,385.0 Q448.09999999999997,385.0 448.09999999999997,385.59999999999997 L448.09999999999997,393.09999999999997 Q448.09999999999997,393.7 447.5,393.7 L435.4,393.7 Q434.8,393.7 434.8,393.09999999999997 Z" fill="none" stroke="#7a7a7a" stroke-width="1.15"/><path d="M435.2,383.9 L440.4,383.9 L441.4,385.4 L435.2,385.4 Z" fill="#7a7a7a" opacity=".55"/><path d="M434.8,385.79999999999995 L448.09999999999997,385.79999999999995" stroke="#7a7a7a" stroke-width=".9" opacity=".7"/><circle cx="637.9" cy="388.4" r="6.4" fill="none" stroke="#62c698" stroke-width="1.25"/><path d="M635.1,388.5 L637.1,390.29999999999995 L640.6,386.9" fill="none" stroke="#62c698" stroke-width="1.4" stroke-linecap="round" stroke-linejoin="round"/><circle cx="697.9" cy="388.4" r="6.4" fill="none" stroke="#62c698" stroke-width="1.25"/><path d="M695.1,388.5 L697.1,390.29999999999995 L700.6,386.9" fill="none" stroke="#62c698" stroke-width="1.4" stroke-linecap="round" stroke-linejoin="round"/><circle cx="752.2" cy="388.4" r="6.4" fill="none" stroke="#62c698" stroke-width="1.25"/><path d="M749.4000000000001,388.5 L751.4000000000001,390.29999999999995 L754.9000000000001,386.9" fill="none" stroke="#62c698" stroke-width="1.4" stroke-linecap="round" stroke-linejoin="round"/><path d="M798.74,384.52 A6.3,6.3 0 0 1 809.94,389.28" fill="none" stroke="#4fbd88" stroke-width="1.25"/><path d="M797.40,388.40 A6.3,6.3 0 0 0 808.53,392.45" fill="none" stroke="#4fbd88" stroke-width="1.25"/><circle cx="809.94" cy="389.28" r="1.3" fill="#1f9e5c"/><circle cx="797.40" cy="388.40" r="1.3" fill="#1f9e5c"/><path d="M801.1,388.5 L803.0,390.2 L806.3000000000001,386.9" fill="none" stroke="#4fbd88" stroke-width="1.4" stroke-linecap="round" stroke-linejoin="round"/><circle cx="856.5" cy="388.4" r="6.6" fill="none" stroke="#dc737c" stroke-width="1.15"/><path d="M852.9,388.4 L860.1,388.4" stroke="#dc737c" stroke-width="1.4"/><path d="M903.75,384.4 Q907.1,383.4 909.7,382.05 Q912.3000000000001,383.4 915.6500000000001,384.4 L915.6500000000001,389.0 A5.95,5.95 0 0 1 903.75,389.0 Z" fill="none" stroke="#eea857" stroke-width="1.3" stroke-linejoin="round"/><path d="M906.4000000000001,388.59999999999997 A3.3,3.3 0 0 1 912.9000000000001,387.79999999999995" fill="none" stroke="#eea857" stroke-width="1.15"/><path d="M913.0,389.29999999999995 A3.3,3.3 0 0 1 906.5,389.9" fill="none" stroke="#eea857" stroke-width="1.15"/><circle cx="1091.8" cy="385.2" r="1.05" fill="#333"/><circle cx="1091.8" cy="388.7" r="1.05" fill="#333"/><circle cx="1091.8" cy="392.2" r="1.05" fill="#333"/><rect x="215.0" y="410.5" width="10.5" height="10.5" rx="2" fill="#fff" stroke="#9a9a9a" stroke-width="1"/><rect x="239.6" y="408.20000000000005" width="11.6" height="8.6" rx="1.5" fill="none" stroke="#777" stroke-width="1.15"/><path d="M243.9,416.90000000000003 L243.9,419.0 M246.5,416.90000000000003 L246.5,419.0" stroke="#777" stroke-width="0.8"/><path d="M242.8,419.1 L247.6,419.1" stroke="#777" stroke-width="0.9"/><path d="M434.8,418.09999999999997 L434.8,408.59999999999997 Q434.8,408.0 435.4,408.0 L440.5,408.0 L441.9,410.0 L447.5,410.0 Q448.09999999999997,410.0 448.09999999999997,410.59999999999997 L448.09999999999997,418.09999999999997 Q448.09999999999997,418.7 447.5,418.7 L435.4,418.7 Q434.8,418.7 434.8,418.09999999999997 Z" fill="none" stroke="#7a7a7a" stroke-width="1.15"/><path d="M435.2,408.9 L440.4,408.9 L441.4,410.4 L435.2,410.4 Z" fill="#7a7a7a" opacity=".55"/><path d="M434.8,410.79999999999995 L448.09999999999997,410.79999999999995" stroke="#7a7a7a" stroke-width=".9" opacity=".7"/><circle cx="637.9" cy="413.4" r="6.4" fill="none" stroke="#dc737c" stroke-width="1.15"/><path d="M635.6999999999999,411.2 L640.1,415.59999999999997 M640.1,411.2 L635.6999999999999,415.59999999999997" fill="none" stroke="#dc737c" stroke-width="1.2" stroke-linecap="round"/><circle cx="697.9" cy="413.4" r="6.4" fill="none" stroke="#dc737c" stroke-width="1.15"/><path d="M695.6999999999999,411.2 L700.1,415.59999999999997 M700.1,411.2 L695.6999999999999,415.59999999999997" fill="none" stroke="#dc737c" stroke-width="1.2" stroke-linecap="round"/><circle cx="752.2" cy="413.4" r="6.4" fill="none" stroke="#dc737c" stroke-width="1.15"/><path d="M750.0,411.2 L754.4000000000001,415.59999999999997 M754.4000000000001,411.2 L750.0,415.59999999999997" fill="none" stroke="#dc737c" stroke-width="1.2" stroke-linecap="round"/><path d="M798.74,409.52 A6.3,6.3 0 0 1 809.94,414.28" fill="none" stroke="#4fbd88" stroke-width="1.25"/><path d="M797.40,413.40 A6.3,6.3 0 0 0 808.53,417.45" fill="none" stroke="#4fbd88" stroke-width="1.25"/><circle cx="809.94" cy="414.28" r="1.3" fill="#1f9e5c"/><circle cx="797.40" cy="413.40" r="1.3" fill="#1f9e5c"/><path d="M801.1,413.5 L803.0,415.2 L806.3000000000001,411.9" fill="none" stroke="#4fbd88" stroke-width="1.4" stroke-linecap="round" stroke-linejoin="round"/><circle cx="856.5" cy="413.4" r="6.6" fill="none" stroke="#dc737c" stroke-width="1.15"/><path d="M852.9,413.4 L860.1,413.4" stroke="#dc737c" stroke-width="1.4"/><circle cx="909.7" cy="413.4" r="6.4" fill="none" stroke="#dc737c" stroke-width="1.15"/><path d="M907.5,411.2 L911.9000000000001,415.59999999999997 M911.9000000000001,411.2 L907.5,415.59999999999997" fill="none" stroke="#dc737c" stroke-width="1.2" stroke-linecap="round"/><circle cx="1091.8" cy="410.2" r="1.05" fill="#333"/><circle cx="1091.8" cy="413.7" r="1.05" fill="#333"/><circle cx="1091.8" cy="417.2" r="1.05" fill="#333"/><rect x="215.0" y="435.5" width="10.5" height="10.5" rx="2" fill="#fff" stroke="#9a9a9a" stroke-width="1"/><rect x="240.9" y="435.1" width="9.3" height="7.6" rx="1.2" fill="none" stroke="#777" stroke-width="1.15"/><path d="M239.3,443.4 L251.8,443.4" stroke="#777" stroke-width="1.2"/><path d="M434.8,443.09999999999997 L434.8,433.59999999999997 Q434.8,433.0 435.4,433.0 L440.5,433.0 L441.9,435.0 L447.5,435.0 Q448.09999999999997,435.0 448.09999999999997,435.59999999999997 L448.09999999999997,443.09999999999997 Q448.09999999999997,443.7 447.5,443.7 L435.4,443.7 Q434.8,443.7 434.8,443.09999999999997 Z" fill="none" stroke="#7a7a7a" stroke-width="1.15"/><path d="M435.2,433.9 L440.4,433.9 L441.4,435.4 L435.2,435.4 Z" fill="#7a7a7a" opacity=".55"/><path d="M434.8,435.79999999999995 L448.09999999999997,435.79999999999995" stroke="#7a7a7a" stroke-width=".9" opacity=".7"/><circle cx="637.9" cy="438.4" r="6.4" fill="none" stroke="#62c698" stroke-width="1.25"/><path d="M635.1,438.5 L637.1,440.29999999999995 L640.6,436.9" fill="none" stroke="#62c698" stroke-width="1.4" stroke-linecap="round" stroke-linejoin="round"/><circle cx="697.9" cy="438.4" r="6.4" fill="none" stroke="#62c698" stroke-width="1.25"/><path d="M695.1,438.5 L697.1,440.29999999999995 L700.6,436.9" fill="none" stroke="#62c698" stroke-width="1.4" stroke-linecap="round" stroke-linejoin="round"/><circle cx="752.2" cy="438.4" r="6.4" fill="none" stroke="#62c698" stroke-width="1.25"/><path d="M749.4000000000001,438.5 L751.4000000000001,440.29999999999995 L754.9000000000001,436.9" fill="none" stroke="#62c698" stroke-width="1.4" stroke-linecap="round" stroke-linejoin="round"/><path d="M798.74,434.52 A6.3,6.3 0 0 1 809.94,439.28" fill="none" stroke="#4fbd88" stroke-width="1.25"/><path d="M797.40,438.40 A6.3,6.3 0 0 0 808.53,442.45" fill="none" stroke="#4fbd88" stroke-width="1.25"/><circle cx="809.94" cy="439.28" r="1.3" fill="#1f9e5c"/><circle cx="797.40" cy="438.40" r="1.3" fill="#1f9e5c"/><path d="M801.1,438.5 L803.0,440.2 L806.3000000000001,436.9" fill="none" stroke="#4fbd88" stroke-width="1.4" stroke-linecap="round" stroke-linejoin="round"/><circle cx="856.5" cy="438.4" r="6.4" fill="none" stroke="#62c698" stroke-width="1.25"/><path d="M853.7,438.5 L855.7,440.29999999999995 L859.2,436.9" fill="none" stroke="#62c698" stroke-width="1.4" stroke-linecap="round" stroke-linejoin="round"/><circle cx="909.7" cy="438.4" r="6.4" fill="none" stroke="#62c698" stroke-width="1.25"/><path d="M906.9000000000001,438.5 L908.9000000000001,440.29999999999995 L912.4000000000001,436.9" fill="none" stroke="#62c698" stroke-width="1.4" stroke-linecap="round" stroke-linejoin="round"/><circle cx="1091.8" cy="435.2" r="1.05" fill="#333"/><circle cx="1091.8" cy="438.7" r="1.05" fill="#333"/><circle cx="1091.8" cy="442.2" r="1.05" fill="#333"/><rect x="215.0" y="460.5" width="10.5" height="10.5" rx="2" fill="#fff" stroke="#9a9a9a" stroke-width="1"/><rect x="240.9" y="460.1" width="9.3" height="7.6" rx="1.2" fill="none" stroke="#777" stroke-width="1.15"/><path d="M239.3,468.4 L251.8,468.4" stroke="#777" stroke-width="1.2"/><path d="M434.8,468.09999999999997 L434.8,458.59999999999997 Q434.8,458.0 435.4,458.0 L440.5,458.0 L441.9,460.0 L447.5,460.0 Q448.09999999999997,460.0 448.09999999999997,460.59999999999997 L448.09999999999997,468.09999999999997 Q448.09999999999997,468.7 447.5,468.7 L435.4,468.7 Q434.8,468.7 434.8,468.09999999999997 Z" fill="none" stroke="#7a7a7a" stroke-width="1.15"/><path d="M435.2,458.9 L440.4,458.9 L441.4,460.4 L435.2,460.4 Z" fill="#7a7a7a" opacity=".55"/><path d="M434.8,460.79999999999995 L448.09999999999997,460.79999999999995" stroke="#7a7a7a" stroke-width=".9" opacity=".7"/><text x="438.8" y="466.7" font-family="Liberation Sans" font-size="5" font-weight="bold" fill="#7a7a7a">IP</text><circle cx="637.9" cy="463.4" r="6.4" fill="none" stroke="#62c698" stroke-width="1.25"/><path d="M635.1,463.5 L637.1,465.29999999999995 L640.6,461.9" fill="none" stroke="#62c698" stroke-width="1.4" stroke-linecap="round" stroke-linejoin="round"/><circle cx="697.9" cy="463.4" r="6.4" fill="none" stroke="#62c698" stroke-width="1.25"/><path d="M695.1,463.5 L697.1,465.29999999999995 L700.6,461.9" fill="none" stroke="#62c698" stroke-width="1.4" stroke-linecap="round" stroke-linejoin="round"/><circle cx="752.2" cy="463.4" r="6.4" fill="none" stroke="#62c698" stroke-width="1.25"/><path d="M749.4000000000001,463.5 L751.4000000000001,465.29999999999995 L754.9000000000001,461.9" fill="none" stroke="#62c698" stroke-width="1.4" stroke-linecap="round" stroke-linejoin="round"/><path d="M798.74,459.52 A6.3,6.3 0 0 1 809.94,464.28" fill="none" stroke="#4fbd88" stroke-width="1.25"/><path d="M797.40,463.40 A6.3,6.3 0 0 0 808.53,467.45" fill="none" stroke="#4fbd88" stroke-width="1.25"/><circle cx="809.94" cy="464.28" r="1.3" fill="#1f9e5c"/><circle cx="797.40" cy="463.40" r="1.3" fill="#1f9e5c"/><path d="M801.1,463.5 L803.0,465.2 L806.3000000000001,461.9" fill="none" stroke="#4fbd88" stroke-width="1.4" stroke-linecap="round" stroke-linejoin="round"/><circle cx="856.5" cy="463.4" r="6.4" fill="none" stroke="#62c698" stroke-width="1.25"/><path d="M853.7,463.5 L855.7,465.29999999999995 L859.2,461.9" fill="none" stroke="#62c698" stroke-width="1.4" stroke-linecap="round" stroke-linejoin="round"/><circle cx="909.7" cy="463.4" r="6.4" fill="none" stroke="#62c698" stroke-width="1.25"/><path d="M906.9000000000001,463.5 L908.9000000000001,465.29999999999995 L912.4000000000001,461.9" fill="none" stroke="#62c698" stroke-width="1.4" stroke-linecap="round" stroke-linejoin="round"/><circle cx="1091.8" cy="460.2" r="1.05" fill="#333"/><circle cx="1091.8" cy="463.7" r="1.05" fill="#333"/><circle cx="1091.8" cy="467.2" r="1.05" fill="#333"/><rect x="215.0" y="485.5" width="10.5" height="10.5" rx="2" fill="#fff" stroke="#9a9a9a" stroke-width="1"/><rect x="239.5" y="483.3" width="12.2" height="4" rx="1" fill="#c8c8c8" stroke="#8a8a8a" stroke-width="1"/><rect x="243.5" y="484.6" width="7" height="1.4" fill="#fff"/><rect x="240.7" y="484.6" width="2" height="1.4" fill="#555"/><rect x="239.5" y="487.7" width="12.2" height="4" rx="1" fill="#c8c8c8" stroke="#8a8a8a" stroke-width="1"/><rect x="243.5" y="489.0" width="7" height="1.4" fill="#fff"/><rect x="240.7" y="489.0" width="2" height="1.4" fill="#555"/><rect x="239.5" y="492.1" width="12.2" height="4" rx="1" fill="#c8c8c8" stroke="#8a8a8a" stroke-width="1"/><rect x="243.5" y="493.40000000000003" width="7" height="1.4" fill="#fff"/><rect x="240.7" y="493.40000000000003" width="2" height="1.4" fill="#555"/><path d="M434.8,493.09999999999997 L434.8,483.59999999999997 Q434.8,483.0 435.4,483.0 L440.5,483.0 L441.9,485.0 L447.5,485.0 Q448.09999999999997,485.0 448.09999999999997,485.59999999999997 L448.09999999999997,493.09999999999997 Q448.09999999999997,493.7 447.5,493.7 L435.4,493.7 Q434.8,493.7 434.8,493.09999999999997 Z" fill="none" stroke="#7a7a7a" stroke-width="1.15"/><path d="M435.2,483.9 L440.4,483.9 L441.4,485.4 L435.2,485.4 Z" fill="#7a7a7a" opacity=".55"/><path d="M434.8,485.79999999999995 L448.09999999999997,485.79999999999995" stroke="#7a7a7a" stroke-width=".9" opacity=".7"/><text x="438.8" y="491.7" font-family="Liberation Sans" font-size="5" font-weight="bold" fill="#7a7a7a">IP</text><path d="M633.6,483.09999999999997 L642.2,483.09999999999997 L642.2,495.59999999999997 L637.9,493.59999999999997 L633.6,495.59999999999997 Z" fill="none" stroke="#b9c2cf" stroke-width="1.1"/><path d="M636.1999999999999,485.99999999999994 L639.6,489.4 M639.6,485.99999999999994 L636.1999999999999,489.4" stroke="#b9c2cf" stroke-width="1.1"/><path d="M693.6,483.09999999999997 L702.2,483.09999999999997 L702.2,495.59999999999997 L697.9,493.59999999999997 L693.6,495.59999999999997 Z" fill="none" stroke="#b9c2cf" stroke-width="1.1"/><path d="M696.1999999999999,485.99999999999994 L699.6,489.4 M699.6,485.99999999999994 L696.1999999999999,489.4" stroke="#b9c2cf" stroke-width="1.1"/><path d="M747.9000000000001,483.09999999999997 L756.5000000000001,483.09999999999997 L756.5000000000001,495.59999999999997 L752.2,493.59999999999997 L747.9000000000001,495.59999999999997 Z" fill="none" stroke="#b9c2cf" stroke-width="1.1"/><path d="M750.5,485.99999999999994 L753.9000000000001,489.4 M753.9000000000001,485.99999999999994 L750.5,489.4" stroke="#b9c2cf" stroke-width="1.1"/><path d="M797.2,488.4 L810.2,488.4" stroke="#ccd0d8" stroke-width="1.6"/><path d="M850.0,488.4 L863.0,488.4" stroke="#ccd0d8" stroke-width="1.6"/><path d="M903.2,488.4 L916.2,488.4" stroke="#ccd0d8" stroke-width="1.6"/><circle cx="1091.8" cy="485.2" r="1.05" fill="#333"/><circle cx="1091.8" cy="488.7" r="1.05" fill="#333"/><circle cx="1091.8" cy="492.2" r="1.05" fill="#333"/><rect x="215.0" y="510.5" width="10.5" height="10.5" rx="2" fill="#fff" stroke="#9a9a9a" stroke-width="1"/><rect x="239.5" y="508.3" width="12.2" height="4" rx="1" fill="#c8c8c8" stroke="#8a8a8a" stroke-width="1"/><rect x="243.5" y="509.6" width="7" height="1.4" fill="#fff"/><rect x="240.7" y="509.6" width="2" height="1.4" fill="#555"/><rect x="239.5" y="512.7" width="12.2" height="4" rx="1" fill="#c8c8c8" stroke="#8a8a8a" stroke-width="1"/><rect x="243.5" y="514.0" width="7" height="1.4" fill="#fff"/><rect x="240.7" y="514.0" width="2" height="1.4" fill="#555"/><rect x="239.5" y="517.1" width="12.2" height="4" rx="1" fill="#c8c8c8" stroke="#8a8a8a" stroke-width="1"/><rect x="243.5" y="518.4" width="7" height="1.4" fill="#fff"/><rect x="240.7" y="518.4" width="2" height="1.4" fill="#555"/><path d="M434.8,518.1 L434.8,508.59999999999997 Q434.8,508.0 435.4,508.0 L440.5,508.0 L441.9,510.0 L447.5,510.0 Q448.09999999999997,510.0 448.09999999999997,510.59999999999997 L448.09999999999997,518.1 Q448.09999999999997,518.6999999999999 447.5,518.6999999999999 L435.4,518.6999999999999 Q434.8,518.6999999999999 434.8,518.1 Z" fill="none" stroke="#7a7a7a" stroke-width="1.15"/><path d="M435.2,508.9 L440.4,508.9 L441.4,510.4 L435.2,510.4 Z" fill="#7a7a7a" opacity=".55"/><path d="M434.8,510.79999999999995 L448.09999999999997,510.79999999999995" stroke="#7a7a7a" stroke-width=".9" opacity=".7"/><circle cx="637.9" cy="513.4" r="6.4" fill="none" stroke="#62c698" stroke-width="1.25"/><path d="M635.1,513.5 L637.1,515.3 L640.6,511.9" fill="none" stroke="#62c698" stroke-width="1.4" stroke-linecap="round" stroke-linejoin="round"/><circle cx="697.9" cy="513.4" r="6.6" fill="none" stroke="#eea656" stroke-width="1.15"/><path d="M694.3,513.4 L701.5,513.4" stroke="#eea656" stroke-width="1.4"/><circle cx="752.2" cy="513.4" r="6.4" fill="none" stroke="#62c698" stroke-width="1.25"/><path d="M749.4000000000001,513.5 L751.4000000000001,515.3 L754.9000000000001,511.9" fill="none" stroke="#62c698" stroke-width="1.4" stroke-linecap="round" stroke-linejoin="round"/><path d="M798.74,509.52 A6.3,6.3 0 0 1 809.94,514.28" fill="none" stroke="#4fbd88" stroke-width="1.25"/><path d="M797.40,513.40 A6.3,6.3 0 0 0 808.53,517.45" fill="none" stroke="#4fbd88" stroke-width="1.25"/><circle cx="809.94" cy="514.28" r="1.3" fill="#1f9e5c"/><circle cx="797.40" cy="513.40" r="1.3" fill="#1f9e5c"/><path d="M801.1,513.5 L803.0,515.1999999999999 L806.3000000000001,511.9" fill="none" stroke="#4fbd88" stroke-width="1.4" stroke-linecap="round" stroke-linejoin="round"/><circle cx="856.5" cy="513.4" r="6.4" fill="none" stroke="#62c698" stroke-width="1.25"/><path d="M853.7,513.5 L855.7,515.3 L859.2,511.9" fill="none" stroke="#62c698" stroke-width="1.4" stroke-linecap="round" stroke-linejoin="round"/><circle cx="909.7" cy="513.4" r="6.4" fill="none" stroke="#62c698" stroke-width="1.25"/><path d="M906.9000000000001,513.5 L908.9000000000001,515.3 L912.4000000000001,511.9" fill="none" stroke="#62c698" stroke-width="1.4" stroke-linecap="round" stroke-linejoin="round"/><circle cx="1091.8" cy="510.2" r="1.05" fill="#333"/><circle cx="1091.8" cy="513.7" r="1.05" fill="#333"/><circle cx="1091.8" cy="517.2" r="1.05" fill="#333"/><rect x="412.6" y="157.9" width="11" height="11.2" rx="1.2" fill="none" stroke="#d4606c" stroke-width="1.1"/><circle cx="418.1" cy="161.4" r="1.9" fill="none" stroke="#d4606c" stroke-width="1.1"/><path d="M414.6,167.5 Q414.8,164.0 418.1,163.9 Q421.4,164.0 421.6,167.5 Z" fill="none" stroke="#d4606c" stroke-width="1.1"/><path d="M416.6,164.20000000000002 L419.6,164.20000000000002" stroke="#d4606c" stroke-width="1.3"/><path d="M397.20,186.34 L398.40,186.59 L398.40,188.61 L397.20,188.86 L396.97,189.40 L397.65,190.42 L396.22,191.85 L395.20,191.17 L394.66,191.40 L394.41,192.60 L392.39,192.60 L392.14,191.40 L391.60,191.17 L390.58,191.85 L389.15,190.42 L389.83,189.40 L389.60,188.86 L388.40,188.61 L388.40,186.59 L389.60,186.34 L389.83,185.80 L389.15,184.78 L390.58,183.35 L391.60,184.03 L392.14,183.80 L392.39,182.60 L394.41,182.60 L394.66,183.80 L395.20,184.03 L396.22,183.35 L397.65,184.78 L396.97,185.80 Z" fill="none" stroke="#d4606c" stroke-width="0.95" stroke-linejoin="round"/><circle cx="393.4" cy="187.6" r="1.3" fill="none" stroke="#d4606c" stroke-width="0.9"/><path d="M387.4,193.2 L387.4,194.7 L399.4,194.7 L399.4,193.2" fill="none" stroke="#d4606c" stroke-width="1"/><circle cx="417" cy="189" r="8.6" fill="#f47a38"/><path d="M412.4,187.5 Q412.4,184.4 415.5,184.2 L418.5,184.2 Q421.6,184.4 421.6,187.5 L421.6,193.2 L412.4,193.2 Z" fill="none" stroke="rgba(255,255,255,0.75)" stroke-width="1"/><path d="M412.4,186.7 L421.6,186.7" stroke="rgba(255,255,255,0.75)" stroke-width="1"/><path d="M415.4,188.4 L418.6,191.6 M418.6,188.4 L415.4,191.6" stroke="#fff" stroke-width="1.2"/><path d="M422.00,236.34 L423.20,236.59 L423.20,238.61 L422.00,238.86 L421.77,239.40 L422.45,240.42 L421.02,241.85 L420.00,241.17 L419.46,241.40 L419.21,242.60 L417.19,242.60 L416.94,241.40 L416.40,241.17 L415.38,241.85 L413.95,240.42 L414.63,239.40 L414.40,238.86 L413.20,238.61 L413.20,236.59 L414.40,236.34 L414.63,235.80 L413.95,234.78 L415.38,233.35 L416.40,234.03 L416.94,233.80 L417.19,232.60 L419.21,232.60 L419.46,233.80 L420.00,234.03 L421.02,233.35 L422.45,234.78 L421.77,235.80 Z" fill="none" stroke="#d4606c" stroke-width="0.95" stroke-linejoin="round"/><circle cx="418.2" cy="237.6" r="1.3" fill="none" stroke="#d4606c" stroke-width="0.9"/><path d="M412.2,243.2 L412.2,244.7 L424.2,244.7 L424.2,243.2" fill="none" stroke="#d4606c" stroke-width="1"/><path d="M422.00,261.34 L423.20,261.59 L423.20,263.61 L422.00,263.86 L421.77,264.40 L422.45,265.42 L421.02,266.85 L420.00,266.17 L419.46,266.40 L419.21,267.60 L417.19,267.60 L416.94,266.40 L416.40,266.17 L415.38,266.85 L413.95,265.42 L414.63,264.40 L414.40,263.86 L413.20,263.61 L413.20,261.59 L414.40,261.34 L414.63,260.80 L413.95,259.78 L415.38,258.35 L416.40,259.03 L416.94,258.80 L417.19,257.60 L419.21,257.60 L419.46,258.80 L420.00,259.03 L421.02,258.35 L422.45,259.78 L421.77,260.80 Z" fill="none" stroke="#d4606c" stroke-width="0.95" stroke-linejoin="round"/><circle cx="418.2" cy="262.6" r="1.3" fill="none" stroke="#d4606c" stroke-width="0.9"/><path d="M412.2,268.20000000000005 L412.2,269.70000000000005 L424.2,269.70000000000005 L424.2,268.20000000000005" fill="none" stroke="#d4606c" stroke-width="1"/><path d="M422.00,286.34 L423.20,286.59 L423.20,288.61 L422.00,288.86 L421.77,289.40 L422.45,290.42 L421.02,291.85 L420.00,291.17 L419.46,291.40 L419.21,292.60 L417.19,292.60 L416.94,291.40 L416.40,291.17 L415.38,291.85 L413.95,290.42 L414.63,289.40 L414.40,288.86 L413.20,288.61 L413.20,286.59 L414.40,286.34 L414.63,285.80 L413.95,284.78 L415.38,283.35 L416.40,284.03 L416.94,283.80 L417.19,282.60 L419.21,282.60 L419.46,283.80 L420.00,284.03 L421.02,283.35 L422.45,284.78 L421.77,285.80 Z" fill="none" stroke="#d4606c" stroke-width="0.95" stroke-linejoin="round"/><circle cx="418.2" cy="287.6" r="1.3" fill="none" stroke="#d4606c" stroke-width="0.9"/><path d="M412.2,293.20000000000005 L412.2,294.70000000000005 L424.2,294.70000000000005 L424.2,293.20000000000005" fill="none" stroke="#d4606c" stroke-width="1"/><path d="M422.00,361.34 L423.20,361.59 L423.20,363.61 L422.00,363.86 L421.77,364.40 L422.45,365.42 L421.02,366.85 L420.00,366.17 L419.46,366.40 L419.21,367.60 L417.19,367.60 L416.94,366.40 L416.40,366.17 L415.38,366.85 L413.95,365.42 L414.63,364.40 L414.40,363.86 L413.20,363.61 L413.20,361.59 L414.40,361.34 L414.63,360.80 L413.95,359.78 L415.38,358.35 L416.40,359.03 L416.94,358.80 L417.19,357.60 L419.21,357.60 L419.46,358.80 L420.00,359.03 L421.02,358.35 L422.45,359.78 L421.77,360.80 Z" fill="none" stroke="#d4606c" stroke-width="0.95" stroke-linejoin="round"/><circle cx="418.2" cy="362.6" r="1.3" fill="none" stroke="#d4606c" stroke-width="0.9"/><path d="M412.2,368.20000000000005 L412.2,369.70000000000005 L424.2,369.70000000000005 L424.2,368.20000000000005" fill="none" stroke="#d4606c" stroke-width="1"/><path d="M422.00,386.34 L423.20,386.59 L423.20,388.61 L422.00,388.86 L421.77,389.40 L422.45,390.42 L421.02,391.85 L420.00,391.17 L419.46,391.40 L419.21,392.60 L417.19,392.60 L416.94,391.40 L416.40,391.17 L415.38,391.85 L413.95,390.42 L414.63,389.40 L414.40,388.86 L413.20,388.61 L413.20,386.59 L414.40,386.34 L414.63,385.80 L413.95,384.78 L415.38,383.35 L416.40,384.03 L416.94,383.80 L417.19,382.60 L419.21,382.60 L419.46,383.80 L420.00,384.03 L421.02,383.35 L422.45,384.78 L421.77,385.80 Z" fill="none" stroke="#d4606c" stroke-width="0.95" stroke-linejoin="round"/><circle cx="418.2" cy="387.6" r="1.3" fill="none" stroke="#d4606c" stroke-width="0.9"/><path d="M412.2,393.20000000000005 L412.2,394.70000000000005 L424.2,394.70000000000005 L424.2,393.20000000000005" fill="none" stroke="#d4606c" stroke-width="1"/><path d="M422.00,411.34 L423.20,411.59 L423.20,413.61 L422.00,413.86 L421.77,414.40 L422.45,415.42 L421.02,416.85 L420.00,416.17 L419.46,416.40 L419.21,417.60 L417.19,417.60 L416.94,416.40 L416.40,416.17 L415.38,416.85 L413.95,415.42 L414.63,414.40 L414.40,413.86 L413.20,413.61 L413.20,411.59 L414.40,411.34 L414.63,410.80 L413.95,409.78 L415.38,408.35 L416.40,409.03 L416.94,408.80 L417.19,407.60 L419.21,407.60 L419.46,408.80 L420.00,409.03 L421.02,408.35 L422.45,409.78 L421.77,410.80 Z" fill="none" stroke="#d4606c" stroke-width="0.95" stroke-linejoin="round"/><circle cx="418.2" cy="412.6" r="1.3" fill="none" stroke="#d4606c" stroke-width="0.9"/><path d="M412.2,418.20000000000005 L412.2,419.70000000000005 L424.2,419.70000000000005 L424.2,418.20000000000005" fill="none" stroke="#d4606c" stroke-width="1"/><path d="M422.00,511.34 L423.20,511.59 L423.20,513.61 L422.00,513.86 L421.77,514.40 L422.45,515.42 L421.02,516.85 L420.00,516.17 L419.46,516.40 L419.21,517.60 L417.19,517.60 L416.94,516.40 L416.40,516.17 L415.38,516.85 L413.95,515.42 L414.63,514.40 L414.40,513.86 L413.20,513.61 L413.20,511.59 L414.40,511.34 L414.63,510.80 L413.95,509.78 L415.38,508.35 L416.40,509.03 L416.94,508.80 L417.19,507.60 L419.21,507.60 L419.46,508.80 L420.00,509.03 L421.02,508.35 L422.45,509.78 L421.77,510.80 Z" fill="none" stroke="#d4606c" stroke-width="0.95" stroke-linejoin="round"/><circle cx="418.2" cy="512.6" r="1.3" fill="none" stroke="#d4606c" stroke-width="0.9"/><path d="M412.2,518.2 L412.2,519.7 L424.2,519.7 L424.2,518.2" fill="none" stroke="#d4606c" stroke-width="1"/><path d="M397.20,311.34 L398.40,311.59 L398.40,313.61 L397.20,313.86 L396.97,314.40 L397.65,315.42 L396.22,316.85 L395.20,316.17 L394.66,316.40 L394.41,317.60 L392.39,317.60 L392.14,316.40 L391.60,316.17 L390.58,316.85 L389.15,315.42 L389.83,314.40 L389.60,313.86 L388.40,313.61 L388.40,311.59 L389.60,311.34 L389.83,310.80 L389.15,309.78 L390.58,308.35 L391.60,309.03 L392.14,308.80 L392.39,307.60 L394.41,307.60 L394.66,308.80 L395.20,309.03 L396.22,308.35 L397.65,309.78 L396.97,310.80 Z" fill="none" stroke="#d4606c" stroke-width="0.95" stroke-linejoin="round"/><circle cx="393.4" cy="312.6" r="1.3" fill="none" stroke="#d4606c" stroke-width="0.9"/><path d="M387.4,318.20000000000005 L387.4,319.70000000000005 L399.4,319.70000000000005 L399.4,318.20000000000005" fill="none" stroke="#d4606c" stroke-width="1"/><circle cx="417" cy="314" r="8.6" fill="#f47a38"/><path d="M412.4,312.5 Q412.4,309.4 415.5,309.2 L418.5,309.2 Q421.6,309.4 421.6,312.5 L421.6,318.2 L412.4,318.2 Z" fill="none" stroke="rgba(255,255,255,0.75)" stroke-width="1"/><path d="M412.4,311.7 L421.6,311.7" stroke="rgba(255,255,255,0.75)" stroke-width="1"/><circle cx="417" cy="315" r="1.8" fill="none" stroke="#fff" stroke-width="1"/><path d="M397.20,336.34 L398.40,336.59 L398.40,338.61 L397.20,338.86 L396.97,339.40 L397.65,340.42 L396.22,341.85 L395.20,341.17 L394.66,341.40 L394.41,342.60 L392.39,342.60 L392.14,341.40 L391.60,341.17 L390.58,341.85 L389.15,340.42 L389.83,339.40 L389.60,338.86 L388.40,338.61 L388.40,336.59 L389.60,336.34 L389.83,335.80 L389.15,334.78 L390.58,333.35 L391.60,334.03 L392.14,333.80 L392.39,332.60 L394.41,332.60 L394.66,333.80 L395.20,334.03 L396.22,333.35 L397.65,334.78 L396.97,335.80 Z" fill="none" stroke="#d4606c" stroke-width="0.95" stroke-linejoin="round"/><circle cx="393.4" cy="337.6" r="1.3" fill="none" stroke="#d4606c" stroke-width="0.9"/><path d="M387.4,343.20000000000005 L387.4,344.70000000000005 L399.4,344.70000000000005 L399.4,343.20000000000005" fill="none" stroke="#d4606c" stroke-width="1"/><circle cx="417" cy="339" r="8.6" fill="#e8392c"/><path d="M412.4,337.5 Q412.4,334.4 415.5,334.2 L418.5,334.2 Q421.6,334.4 421.6,337.5 L421.6,343.2 L412.4,343.2 Z" fill="none" stroke="rgba(255,255,255,0.75)" stroke-width="1"/><path d="M412.4,336.7 L421.6,336.7" stroke="rgba(255,255,255,0.75)" stroke-width="1"/><path d="M415,340 L416.4,341.3 L419.2,338.6" fill="none" stroke="#fff" stroke-width="1.2"/><rect x="397.40000000000003" y="432.90000000000003" width="11" height="11.2" rx="1.2" fill="none" stroke="#d4606c" stroke-width="1.1"/><circle cx="402.90000000000003" cy="436.40000000000003" r="1.9" fill="none" stroke="#d4606c" stroke-width="1.1"/><path d="M399.40000000000003,442.5 Q399.6,439.0 402.90000000000003,438.90000000000003 Q406.2,439.0 406.40000000000003,442.5 Z" fill="none" stroke="#d4606c" stroke-width="1.1"/><path d="M401.40000000000003,439.2 L404.40000000000003,439.2" stroke="#d4606c" stroke-width="1.3"/><path d="M422.00,436.34 L423.20,436.59 L423.20,438.61 L422.00,438.86 L421.77,439.40 L422.45,440.42 L421.02,441.85 L420.00,441.17 L419.46,441.40 L419.21,442.60 L417.19,442.60 L416.94,441.40 L416.40,441.17 L415.38,441.85 L413.95,440.42 L414.63,439.40 L414.40,438.86 L413.20,438.61 L413.20,436.59 L414.40,436.34 L414.63,435.80 L413.95,434.78 L415.38,433.35 L416.40,434.03 L416.94,433.80 L417.19,432.60 L419.21,432.60 L419.46,433.80 L420.00,434.03 L421.02,433.35 L422.45,434.78 L421.77,435.80 Z" fill="none" stroke="#d4606c" stroke-width="0.95" stroke-linejoin="round"/><circle cx="418.2" cy="437.6" r="1.3" fill="none" stroke="#d4606c" stroke-width="0.9"/><path d="M412.2,443.20000000000005 L412.2,444.70000000000005 L424.2,444.70000000000005 L424.2,443.20000000000005" fill="none" stroke="#d4606c" stroke-width="1"/><path d="M422.00,461.34 L423.20,461.59 L423.20,463.61 L422.00,463.86 L421.77,464.40 L422.45,465.42 L421.02,466.85 L420.00,466.17 L419.46,466.40 L419.21,467.60 L417.19,467.60 L416.94,466.40 L416.40,466.17 L415.38,466.85 L413.95,465.42 L414.63,464.40 L414.40,463.86 L413.20,463.61 L413.20,461.59 L414.40,461.34 L414.63,460.80 L413.95,459.78 L415.38,458.35 L416.40,459.03 L416.94,458.80 L417.19,457.60 L419.21,457.60 L419.46,458.80 L420.00,459.03 L421.02,458.35 L422.45,459.78 L421.77,460.80 Z" fill="none" stroke="#666" stroke-width="0.95" stroke-linejoin="round"/><circle cx="418.2" cy="462.6" r="1.3" fill="none" stroke="#666" stroke-width="0.9"/><path d="M412.2,468.20000000000005 L412.2,469.70000000000005 L424.2,469.70000000000005 L424.2,468.20000000000005" fill="none" stroke="#666" stroke-width="1"/><path d="M15.5,83.8 Q23.0,80.8 30.5,83.8 L30.5,90.3 C30.5,95.396 26.52,97.944 23.0,98.9 C19.48,97.944 15.5,95.396 15.5,90.3 Z" fill="none" stroke="#555" stroke-width="1.15"/><path d="M17.7,85 L17.7,91.5 C17.7,94 19.8,95.8 22.6,96.8" fill="none" stroke="#555" stroke-width="1"/><path d="M16.25,115.80000000000001 Q20.2,114.80000000000001 23.2,113.45 Q26.2,114.80000000000001 30.15,115.80000000000001 L30.15,121.2 A6.95,6.95 0 0 1 16.25,121.2 Z" fill="none" stroke="#555" stroke-width="1.15" stroke-linejoin="round"/><path d="M23.2,117.2 L23.2,122.2" stroke="#555" stroke-width="1.3"/><circle cx="23.2" cy="124.6" r="0.9" fill="#555"/><rect x="14.6" y="145.9" width="16.6" height="11.2" rx="1.6" fill="none" stroke="#555" stroke-width="1.1"/><path d="M17.4,152.2 L19.2,152.2 L20.4,149.3 L22.9,154.3 L24.6,152.2 L28.4,152.2" fill="none" stroke="#555" stroke-width="1" stroke-linejoin="round"/><rect x="15.6" y="174.6" width="14.6" height="15.6" rx="1.8" fill="none" stroke="#555" stroke-width="1.1"/><circle cx="22.9" cy="179.2" r="2.6" fill="none" stroke="#555" stroke-width="1.1"/><path d="M20.6,182.4 L25.2,182.4" stroke="#555" stroke-width="1.2"/><path d="M18.4,187.6 Q18.4,183.6 22.9,183.6 Q27.4,183.6 27.4,187.6 Z" fill="none" stroke="#555" stroke-width="1.05"/><rect x="16.3" y="187.9" width="13.3" height="2" fill="#6a6a6a"/><g transform="rotate(45 23 212.8)"><rect x="12.6" y="208.8" width="20.8" height="8" rx="4" fill="none" stroke="#555" stroke-width="1.1"/></g><g transform="rotate(-45 23 212.8)"><rect x="12.6" y="208.8" width="20.8" height="8" rx="4" fill="none" stroke="#555" stroke-width="1.1"/></g><path d="M28.6,238.4 A8,8 0 0 0 15.5,246" fill="none" stroke="#555" stroke-width="1.1"/><path d="M17.6,248.9 A8,8 0 0 0 30.6,240.8" fill="none" stroke="#555" stroke-width="1.1"/><circle cx="30" cy="239.2" r="1.5" fill="none" stroke="#555" stroke-width="1"/><circle cx="15.9" cy="247.4" r="1.5" fill="none" stroke="#555" stroke-width="1"/><circle cx="23" cy="243.2" r="2.4" fill="none" stroke="#555" stroke-width="1.1"/><path d="M22.2,267.4 A7.6,7.6 0 1 0 29.6,275" fill="none" stroke="#555" stroke-width="1.1"/><path d="M22.4,272.4 A2.5,2.5 0 1 0 24.6,275" fill="none" stroke="#555" stroke-width="1.1"/><rect x="22.9" y="267.6" width="8.4" height="6.2" rx="0.8" fill="#eee" stroke="#555" stroke-width="1.1"/><path d="M25,267.6 L25,266.3 Q25,265.2 27.1,265.2 Q29.2,265.2 29.2,266.3 L29.2,267.6" fill="none" stroke="#555" stroke-width="1"/><circle cx="27.1" cy="270.3" r="1" fill="#555"/><rect x="17.6" y="348.4" width="10.8" height="11.2" rx="1.2" fill="none" stroke="#555" stroke-width="1.1"/><rect x="20" y="350.7" width="6" height="6.6" rx="0.8" fill="none" stroke="#555" stroke-width="1"/><path d="M18.60,345.2 L18.60,348.2 M18.60,359.8 L18.60,362.8 M20.36,345.2 L20.36,348.2 M20.36,359.8 L20.36,362.8 M22.12,345.2 L22.12,348.2 M22.12,359.8 L22.12,362.8 M23.88,345.2 L23.88,348.2 M23.88,359.8 L23.88,362.8 M25.64,345.2 L25.64,348.2 M25.64,359.8 L25.64,362.8 M27.40,345.2 L27.40,348.2 M27.40,359.8 L27.40,362.8 M14.2,350.20 L17.4,350.20 M28.6,350.20 L31.8,350.20 M14.2,352.00 L17.4,352.00 M28.6,352.00 L31.8,352.00 M14.2,353.80 L17.4,353.80 M28.6,353.80 L31.8,353.80 M14.2,355.60 L17.4,355.60 M28.6,355.60 L31.8,355.60 M14.2,357.40 L17.4,357.40 M28.6,357.40 L31.8,357.40 " stroke="#666" stroke-width="0.9"/><path d="M16.15,379.5 Q20.04,378.5 23.0,377.15000000000003 Q25.96,378.5 29.849999999999998,379.5 L29.849999999999998,385.2 A6.8500000000000005,6.8500000000000005 0 0 1 16.15,385.2 Z" fill="none" stroke="#555" stroke-width="1.15" stroke-linejoin="round"/><path d="M23.1,381.6 L23.1,386.6" stroke="#555" stroke-width="1.3"/><circle cx="23.1" cy="389" r="0.9" fill="#555"/><circle cx="23" cy="415" r="8.4" fill="none" stroke="#555" stroke-width="1.1"/><circle cx="23" cy="415" r="2.4" fill="none" stroke="#555" stroke-width="1.1"/><path d="M15.6,410.8 L20.9,413.8 M18.9,407.6 L21.6,412.8 M30.4,419.2 L25.1,416.2 M27.1,422.4 L24.4,417.2" stroke="#555" stroke-width="1"/><path d="M15.55,439.4 Q19.8,438.4 23.0,437.05 Q26.2,438.4 30.45,439.4 L30.45,446.5 A7.45,7.45 0 0 1 15.55,446.5 Z" fill="none" stroke="#555" stroke-width="1.15" stroke-linejoin="round"/><path d="M23,441.2 L23,449.7" stroke="#888" stroke-width="1"/><path d="M15.55,470.5 Q19.8,469.5 23.0,468.15000000000003 Q26.2,469.5 30.45,470.5 L30.45,477.6 A7.45,7.45 0 0 1 15.55,477.6 Z" fill="none" stroke="#555" stroke-width="1.15" stroke-linejoin="round"/><path d="M23,472.3 L23,480.8" stroke="#888" stroke-width="1"/><circle cx="22.9" cy="515.1" r="8.4" fill="none" stroke="#555" stroke-width="1.1"/><path d="M22.6,509.9 L22.6,516.3 L26.7,516.3" fill="none" stroke="#555" stroke-width="1.2"/><path d="M978.8,26.2 L978.8,13.8 Q978.8,12.9 979.7,12.9 L985.6,12.9 L987.2,15 L995.6,15 Q996.4,15 996.4,15.8 L996.4,26.2 Q996.4,27 995.6,27 L979.6,27 Q978.8,27 978.8,26.2 Z" fill="none" stroke="#fff" stroke-width="1.3"/><path d="M978.8,16.4 L996.4,16.4" stroke="#fff" stroke-width="1"/><g transform="translate(-1.6 0) rotate(-20 1039.5 20)"><path d="M1032.6,26.4 Q1034.3,25 1034.3,22.5 L1034.3,18.2 Q1034.3,12.6 1039.5,12.6 Q1044.7,12.6 1044.7,18.2 L1044.7,22.5 Q1044.7,25 1046.4,26.4 Z" fill="none" stroke="#fff" stroke-width="1.3" stroke-linejoin="round"/><path d="M1039.5,12.6 L1039.5,10.6" stroke="#fff" stroke-width="1.3"/><circle cx="1039.5" cy="27.4" r="1.5" fill="none" stroke="#fff" stroke-width="1.1"/></g><path d="M1084.76,17.95 L1084.76,22.05 L1082.45,22.73 L1082.49,22.63 L1083.65,24.75 L1080.75,27.65 L1078.63,26.49 L1078.73,26.45 L1078.05,28.76 L1073.95,28.76 L1073.27,26.45 L1073.37,26.49 L1071.25,27.65 L1068.35,24.75 L1069.51,22.63 L1069.55,22.73 L1067.24,22.05 L1067.24,17.95 L1069.55,17.27 L1069.51,17.37 L1068.35,15.25 L1071.25,12.35 L1073.37,13.51 L1073.27,13.55 L1073.95,11.24 L1078.05,11.24 L1078.73,13.55 L1078.63,13.51 L1080.75,12.35 L1083.65,15.25 L1082.49,17.37 L1082.45,17.27 Z" fill="none" stroke="#fff" stroke-width="1.3" stroke-linejoin="round"/><circle cx="1076" cy="20" r="2.1" fill="none" stroke="#fff" stroke-width="1.2"/><path d="M233,50 L226.6,55.7 L233,61.4" fill="none" stroke="#7fa9b1" stroke-width="1.3"/><circle cx="1089.6" cy="51.7" r="1.05" fill="#333"/><circle cx="1089.6" cy="55.25" r="1.05" fill="#333"/><circle cx="1089.6" cy="58.800000000000004" r="1.05" fill="#333"/><circle cx="534.6" cy="90.9" r="4.7" fill="none" stroke="#8a8a8a" stroke-width="1.1"/><path d="M538,94.4 L541.8,98.2" stroke="#8a8a8a" stroke-width="1.2"/><path d="M606.8,89.6 L610.8,93.6 L614.8,89.6" fill="none" stroke="#9cc6cc" stroke-width="1.1"/><path d="M1091,89.6 L1091,85.2 Q1091,83.9 1089.7,83.9 L1081.7,83.9 Q1080.4,83.9 1080.4,85.2 L1080.4,98.2 Q1080.4,99.5 1081.7,99.5 L1089.7,99.5 Q1091,99.5 1091,98.2 L1091,94.2" fill="none" stroke="#6aa6b0" stroke-width="1.4"/><path d="M1084.2,91.9 L1094.4,91.9" stroke="#6aa6b0" stroke-width="1.4"/><path d="M1093.2,88.9 L1096.8,91.9 L1093.2,94.9 Z" fill="#6aa6b0"/></svg>
<div class="a" style="left:452px;top:280px;width:116px;height:18px;background:#26292d"></div>
<div class="t" style="left:457.80px;top:283.34px;font-size:10px;line-height:13px;color:#fff;transform:scaleX(0.9431);">All\Windows\Workstation</div>
</body></html>
